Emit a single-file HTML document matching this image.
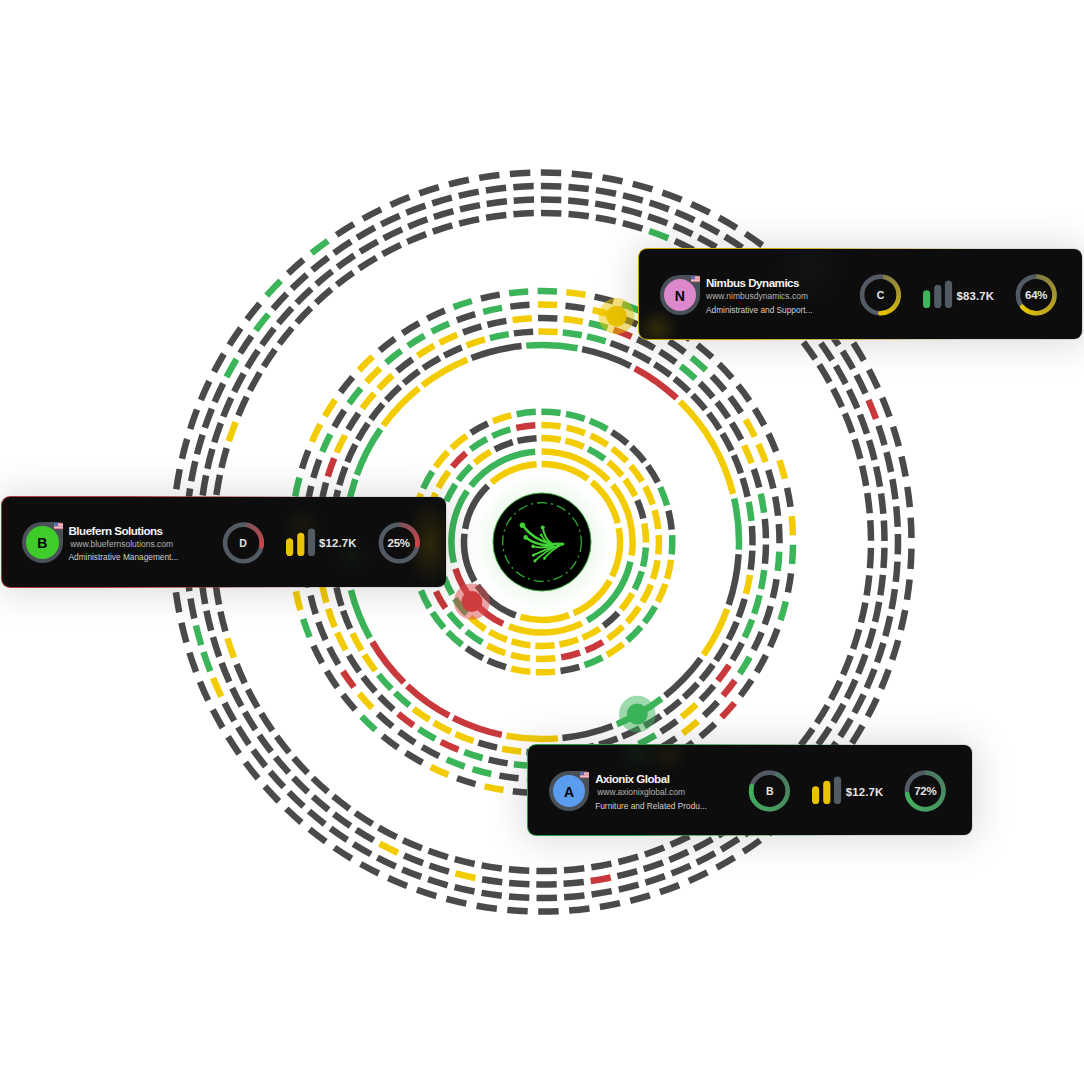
<!DOCTYPE html>
<html><head><meta charset="utf-8"><title>Account rings</title>
<style>
html,body{margin:0;padding:0;background:#fff;}
body{width:1084px;height:1084px;position:relative;overflow:hidden;font-family:"Liberation Sans",sans-serif;}
svg.main{position:absolute;left:0;top:0;}
.card{position:absolute;box-sizing:border-box;height:91px;width:445px;background:#0d0d0d;border-radius:9px;border:1px solid #444;box-shadow:0 1px 38px 3px rgba(0,0,0,0.15);color:#fff;overflow:hidden;}
.card .av{position:absolute;left:20.6px;top:25.6px;width:40.6px;height:40.6px;border-radius:50% 4px 50% 50%;background:#4a5058;}
.card .av i{position:absolute;left:4.1px;top:4.1px;width:32.4px;height:32.4px;border-radius:50%;display:block;}
.card .av b{position:absolute;left:0;top:0;width:40.6px;height:40.6px;line-height:42.5px;text-align:center;font-size:14px;color:#000;font-weight:bold;}
.card .flag{position:absolute;left:52px;top:26.5px;width:9px;height:6px;}
.card .t{position:absolute;left:67px;top:27px;font-size:11.6px;font-weight:bold;line-height:14px;white-space:nowrap;letter-spacing:-0.5px;color:#f4f4f4;}
.card .u{position:absolute;left:67px;top:42px;font-size:8.5px;line-height:10px;white-space:nowrap;color:#b4b4b4;}
.card .d{position:absolute;left:67px;top:55.5px;font-size:8.3px;line-height:10px;white-space:nowrap;color:#d0d0d0;}
.card .amt{position:absolute;top:39.5px;font-size:11.3px;font-weight:bold;line-height:14px;color:#e6e6e6;letter-spacing:0.2px;}
.card svg{position:absolute;left:0;top:0;}
.card .gl{position:absolute;font-size:11.5px;letter-spacing:-0.2px;font-weight:bold;color:#e4e4e4;text-align:center;width:40px;line-height:12px;}
</style></head><body>
<svg class="main" width="1084" height="1084" viewBox="0 0 1084 1084">
<defs>
<radialGradient id="cg" cx="50%" cy="50%" r="50%"><stop offset="0.72" stop-color="#8fd88f" stop-opacity="0.14"/><stop offset="1" stop-color="#8fd88f" stop-opacity="0"/></radialGradient>
</defs>
<path d="M541.59 464.00A78 78 0 0 1 587.91 478.95" stroke="#f2cb00" stroke-width="6.5" fill="none"/>
<path d="M591.82 481.99A78 78 0 0 1 617.70 523.21" stroke="#f2cb00" stroke-width="6.5" fill="none"/>
<path d="M618.74 528.05A78 78 0 0 1 612.07 576.27" stroke="#f2cb00" stroke-width="6.5" fill="none"/>
<path d="M609.75 580.65A78 78 0 0 1 573.65 613.29" stroke="#f2cb00" stroke-width="6.5" fill="none"/>
<path d="M569.06 615.16A78 78 0 0 1 520.42 616.96" stroke="#f2cb00" stroke-width="6.5" fill="none"/>
<path d="M515.71 615.43A78 78 0 0 1 477.29 585.55" stroke="#4a4a4a" stroke-width="6.5" fill="none"/>
<path d="M474.66 581.35A78 78 0 0 1 464.44 533.76" stroke="#4a4a4a" stroke-width="6.5" fill="none"/>
<path d="M465.12 528.86A78 78 0 0 1 487.88 485.83" stroke="#4a4a4a" stroke-width="6.5" fill="none"/>
<path d="M491.55 482.51A78 78 0 0 1 536.64 464.18" stroke="#f2cb00" stroke-width="6.5" fill="none"/>
<path d="M541.53 451.40A90.6 90.6 0 0 1 608.40 480.36" stroke="#f2cb00" stroke-width="6.5" fill="none"/>
<path d="M612.54 485.14A90.6 90.6 0 0 1 631.59 555.48" stroke="#f2cb00" stroke-width="6.5" fill="none"/>
<path d="M630.43 561.70A90.6 90.6 0 0 1 587.32 620.45" stroke="#3cb55a" stroke-width="6.5" fill="none"/>
<path d="M581.74 623.42A90.6 90.6 0 0 1 508.92 626.34" stroke="#f2cb00" stroke-width="6.5" fill="none"/>
<path d="M503.12 623.83A90.6 90.6 0 0 1 455.43 568.72" stroke="#c9393b" stroke-width="6.5" fill="none"/>
<path d="M453.78 562.62A90.6 90.6 0 0 1 467.13 490.98" stroke="#3cb55a" stroke-width="6.5" fill="none"/>
<path d="M470.87 485.88A90.6 90.6 0 0 1 535.21 451.65" stroke="#3cb55a" stroke-width="6.5" fill="none"/>
<path d="M541.46 438.00A104 104 0 0 1 560.65 439.69" stroke="#f2cb00" stroke-width="6.5" fill="none"/>
<path d="M565.45 440.68A104 104 0 0 1 583.75 446.75" stroke="#f2cb00" stroke-width="6.5" fill="none"/>
<path d="M588.19 448.82A104 104 0 0 1 604.59 458.94" stroke="#3cb55a" stroke-width="6.5" fill="none"/>
<path d="M608.43 461.98A104 104 0 0 1 622.06 475.61" stroke="#f2cb00" stroke-width="6.5" fill="none"/>
<path d="M625.09 479.46A104 104 0 0 1 635.21 495.87" stroke="#f2cb00" stroke-width="6.5" fill="none"/>
<path d="M637.28 500.31A104 104 0 0 1 643.33 518.60" stroke="#4a4a4a" stroke-width="6.5" fill="none"/>
<path d="M644.32 523.40A104 104 0 0 1 646.00 542.60" stroke="#f2cb00" stroke-width="6.5" fill="none"/>
<path d="M645.85 547.50A104 104 0 0 1 643.06 566.57" stroke="#3cb55a" stroke-width="6.5" fill="none"/>
<path d="M641.79 571.31A104 104 0 0 1 634.67 589.21" stroke="#3cb55a" stroke-width="6.5" fill="none"/>
<path d="M632.34 593.53A104 104 0 0 1 621.28 609.31" stroke="#f2cb00" stroke-width="6.5" fill="none"/>
<path d="M618.02 612.97A104 104 0 0 1 603.62 625.78" stroke="#4a4a4a" stroke-width="6.5" fill="none"/>
<path d="M599.60 628.59A104 104 0 0 1 582.64 637.73" stroke="#f2cb00" stroke-width="6.5" fill="none"/>
<path d="M578.08 639.54A104 104 0 0 1 559.46 644.52" stroke="#f2cb00" stroke-width="6.5" fill="none"/>
<path d="M554.61 645.23A104 104 0 0 1 535.35 645.79" stroke="#f2cb00" stroke-width="6.5" fill="none"/>
<path d="M530.47 645.36A104 104 0 0 1 511.59 641.46" stroke="#f2cb00" stroke-width="6.5" fill="none"/>
<path d="M506.94 639.91A104 104 0 0 1 489.48 631.76" stroke="#f2cb00" stroke-width="6.5" fill="none"/>
<path d="M485.31 629.19A104 104 0 0 1 470.19 617.23" stroke="#f2cb00" stroke-width="6.5" fill="none"/>
<path d="M466.73 613.76A104 104 0 0 1 454.78 598.64" stroke="#3cb55a" stroke-width="6.5" fill="none"/>
<path d="M452.21 594.47A104 104 0 0 1 444.07 577.00" stroke="#3cb55a" stroke-width="6.5" fill="none"/>
<path d="M442.53 572.35A104 104 0 0 1 438.63 553.47" stroke="#f2cb00" stroke-width="6.5" fill="none"/>
<path d="M438.21 548.59A104 104 0 0 1 438.78 529.33" stroke="#f2cb00" stroke-width="6.5" fill="none"/>
<path d="M446.29 501.31A104 104 0 0 1 455.44 484.35" stroke="#3cb55a" stroke-width="6.5" fill="none"/>
<path d="M458.26 480.33A104 104 0 0 1 471.07 465.94" stroke="#3cb55a" stroke-width="6.5" fill="none"/>
<path d="M474.73 462.68A104 104 0 0 1 490.52 451.63" stroke="#f2cb00" stroke-width="6.5" fill="none"/>
<path d="M494.84 449.31A104 104 0 0 1 512.75 442.20" stroke="#4a4a4a" stroke-width="6.5" fill="none"/>
<path d="M517.49 440.93A104 104 0 0 1 536.56 438.14" stroke="#4a4a4a" stroke-width="6.5" fill="none"/>
<path d="M541.39 425.00A117 117 0 0 1 560.61 426.49" stroke="#f2cb00" stroke-width="6.5" fill="none"/>
<path d="M566.55 427.61A117 117 0 0 1 585.00 433.19" stroke="#f2cb00" stroke-width="6.5" fill="none"/>
<path d="M590.57 435.56A117 117 0 0 1 607.39 444.98" stroke="#f2cb00" stroke-width="6.5" fill="none"/>
<path d="M612.32 448.49A117 117 0 0 1 626.72 461.30" stroke="#f2cb00" stroke-width="6.5" fill="none"/>
<path d="M630.78 465.79A117 117 0 0 1 642.08 481.40" stroke="#f2cb00" stroke-width="6.5" fill="none"/>
<path d="M645.08 486.66A117 117 0 0 1 652.77 504.33" stroke="#f2cb00" stroke-width="6.5" fill="none"/>
<path d="M654.57 510.11A117 117 0 0 1 658.28 529.03" stroke="#f2cb00" stroke-width="6.5" fill="none"/>
<path d="M658.79 535.05A117 117 0 0 1 658.35 554.33" stroke="#f2cb00" stroke-width="6.5" fill="none"/>
<path d="M657.56 560.32A117 117 0 0 1 652.98 579.05" stroke="#f2cb00" stroke-width="6.5" fill="none"/>
<path d="M650.92 584.74A117 117 0 0 1 642.42 602.04" stroke="#f2cb00" stroke-width="6.5" fill="none"/>
<path d="M639.18 607.15A117 117 0 0 1 627.16 622.22" stroke="#f2cb00" stroke-width="6.5" fill="none"/>
<path d="M622.90 626.52A117 117 0 0 1 607.93 638.66" stroke="#f2cb00" stroke-width="6.5" fill="none"/>
<path d="M602.84 641.94A117 117 0 0 1 585.61 650.57" stroke="#c9393b" stroke-width="6.5" fill="none"/>
<path d="M579.94 652.68A117 117 0 0 1 561.25 657.41" stroke="#c9393b" stroke-width="6.5" fill="none"/>
<path d="M555.26 658.25A117 117 0 0 1 535.99 658.85" stroke="#f2cb00" stroke-width="6.5" fill="none"/>
<path d="M529.96 658.38A117 117 0 0 1 511.01 654.82" stroke="#f2cb00" stroke-width="6.5" fill="none"/>
<path d="M505.22 653.07A117 117 0 0 1 487.48 645.52" stroke="#f2cb00" stroke-width="6.5" fill="none"/>
<path d="M482.21 642.57A117 117 0 0 1 466.50 631.38" stroke="#3cb55a" stroke-width="6.5" fill="none"/>
<path d="M461.99 627.36A117 117 0 0 1 449.05 613.06" stroke="#3cb55a" stroke-width="6.5" fill="none"/>
<path d="M445.51 608.17A117 117 0 0 1 435.95 591.42" stroke="#c9393b" stroke-width="6.5" fill="none"/>
<path d="M433.54 585.87A117 117 0 0 1 427.81 567.47" stroke="#f2cb00" stroke-width="6.5" fill="none"/>
<path d="M426.64 561.53A117 117 0 0 1 425.00 542.32" stroke="#f2cb00" stroke-width="6.5" fill="none"/>
<path d="M425.14 536.28A117 117 0 0 1 427.67 517.17" stroke="#f2cb00" stroke-width="6.5" fill="none"/>
<path d="M429.10 511.29A117 117 0 0 1 435.68 493.17" stroke="#f2cb00" stroke-width="6.5" fill="none"/>
<path d="M438.34 487.74A117 117 0 0 1 448.66 471.45" stroke="#f2cb00" stroke-width="6.5" fill="none"/>
<path d="M452.43 466.72A117 117 0 0 1 466.01 453.04" stroke="#c9393b" stroke-width="6.5" fill="none"/>
<path d="M470.71 449.23A117 117 0 0 1 486.91 438.78" stroke="#3cb55a" stroke-width="6.5" fill="none"/>
<path d="M492.32 436.07A117 117 0 0 1 510.39 429.35" stroke="#3cb55a" stroke-width="6.5" fill="none"/>
<path d="M516.25 427.87A117 117 0 0 1 535.34 425.19" stroke="#c9393b" stroke-width="6.5" fill="none"/>
<path d="M541.32 411.70A130.3 130.3 0 0 1 560.55 413.03" stroke="#3cb55a" stroke-width="6.5" fill="none"/>
<path d="M565.99 413.93A130.3 130.3 0 0 1 584.63 418.87" stroke="#3cb55a" stroke-width="6.5" fill="none"/>
<path d="M589.79 420.78A130.3 130.3 0 0 1 607.16 429.16" stroke="#3cb55a" stroke-width="6.5" fill="none"/>
<path d="M611.87 432.02A130.3 130.3 0 0 1 627.34 443.53" stroke="#4a4a4a" stroke-width="6.5" fill="none"/>
<path d="M631.42 447.23A130.3 130.3 0 0 1 644.43 461.46" stroke="#4a4a4a" stroke-width="6.5" fill="none"/>
<path d="M647.74 465.86A130.3 130.3 0 0 1 657.82 482.30" stroke="#4a4a4a" stroke-width="6.5" fill="none"/>
<path d="M660.24 487.25A130.3 130.3 0 0 1 667.03 505.30" stroke="#3cb55a" stroke-width="6.5" fill="none"/>
<path d="M668.46 510.62A130.3 130.3 0 0 1 671.71 529.63" stroke="#4a4a4a" stroke-width="6.5" fill="none"/>
<path d="M672.12 535.12A130.3 130.3 0 0 1 671.71 554.40" stroke="#3cb55a" stroke-width="6.5" fill="none"/>
<path d="M671.07 559.87A130.3 130.3 0 0 1 667.02 578.72" stroke="#f2cb00" stroke-width="6.5" fill="none"/>
<path d="M665.36 583.97A130.3 130.3 0 0 1 657.81 601.72" stroke="#f2cb00" stroke-width="6.5" fill="none"/>
<path d="M655.18 606.56A130.3 130.3 0 0 1 644.42 622.55" stroke="#3cb55a" stroke-width="6.5" fill="none"/>
<path d="M640.92 626.81A130.3 130.3 0 0 1 627.32 640.48" stroke="#3cb55a" stroke-width="6.5" fill="none"/>
<path d="M623.08 644.00A130.3 130.3 0 0 1 607.14 654.85" stroke="#f2cb00" stroke-width="6.5" fill="none"/>
<path d="M602.31 657.50A130.3 130.3 0 0 1 584.61 665.14" stroke="#3cb55a" stroke-width="6.5" fill="none"/>
<path d="M579.36 666.83A130.3 130.3 0 0 1 560.53 670.98" stroke="#4a4a4a" stroke-width="6.5" fill="none"/>
<path d="M555.06 671.64A130.3 130.3 0 0 1 535.79 672.15" stroke="#f2cb00" stroke-width="6.5" fill="none"/>
<path d="M530.29 671.77A130.3 130.3 0 0 1 511.27 668.62" stroke="#f2cb00" stroke-width="6.5" fill="none"/>
<path d="M505.95 667.21A130.3 130.3 0 0 1 487.86 660.52" stroke="#4a4a4a" stroke-width="6.5" fill="none"/>
<path d="M482.90 658.13A130.3 130.3 0 0 1 466.41 648.13" stroke="#4a4a4a" stroke-width="6.5" fill="none"/>
<path d="M461.99 644.84A130.3 130.3 0 0 1 447.69 631.91" stroke="#3cb55a" stroke-width="6.5" fill="none"/>
<path d="M443.97 627.84A130.3 130.3 0 0 1 432.38 612.44" stroke="#3cb55a" stroke-width="6.5" fill="none"/>
<path d="M429.50 607.74A130.3 130.3 0 0 1 421.03 590.42" stroke="#3cb55a" stroke-width="6.5" fill="none"/>
<path d="M419.09 585.26A130.3 130.3 0 0 1 414.05 566.65" stroke="#f2cb00" stroke-width="6.5" fill="none"/>
<path d="M413.13 561.22A130.3 130.3 0 0 1 411.70 541.99" stroke="#f2cb00" stroke-width="6.5" fill="none"/>
<path d="M411.82 536.48A130.3 130.3 0 0 1 414.06 517.33" stroke="#f2cb00" stroke-width="6.5" fill="none"/>
<path d="M415.21 511.94A130.3 130.3 0 0 1 421.04 493.56" stroke="#f2cb00" stroke-width="6.5" fill="none"/>
<path d="M423.19 488.49A130.3 130.3 0 0 1 432.39 471.55" stroke="#3cb55a" stroke-width="6.5" fill="none"/>
<path d="M435.47 466.98A130.3 130.3 0 0 1 447.71 452.07" stroke="#f2cb00" stroke-width="6.5" fill="none"/>
<path d="M451.59 448.17A130.3 130.3 0 0 1 466.43 435.85" stroke="#f2cb00" stroke-width="6.5" fill="none"/>
<path d="M470.98 432.76A130.3 130.3 0 0 1 487.88 423.47" stroke="#4a4a4a" stroke-width="6.5" fill="none"/>
<path d="M492.94 421.29A130.3 130.3 0 0 1 511.29 415.37" stroke="#f2cb00" stroke-width="6.5" fill="none"/>
<path d="M516.67 414.19A130.3 130.3 0 0 1 535.81 411.85" stroke="#3cb55a" stroke-width="6.5" fill="none"/>
<path d="M526.20 345.63A197 197 0 0 1 577.56 348.24" stroke="#3cb55a" stroke-width="6.5" fill="none"/>
<path d="M582.16 349.14A197 197 0 0 1 630.71 366.10" stroke="#4a4a4a" stroke-width="6.5" fill="none"/>
<path d="M634.87 368.27A197 197 0 0 1 676.68 398.22" stroke="#c9393b" stroke-width="6.5" fill="none"/>
<path d="M734.12 498.42A197 197 0 0 1 738.85 549.63" stroke="#3cb55a" stroke-width="6.5" fill="none"/>
<path d="M738.61 554.31A197 197 0 0 1 728.73 604.78" stroke="#4a4a4a" stroke-width="6.5" fill="none"/>
<path d="M727.18 609.21A197 197 0 0 1 703.48 654.85" stroke="#f2cb00" stroke-width="6.5" fill="none"/>
<path d="M700.74 658.66A197 197 0 0 1 665.14 695.77" stroke="#4a4a4a" stroke-width="6.5" fill="none"/>
<path d="M661.45 698.66A197 197 0 0 1 616.83 724.23" stroke="#3cb55a" stroke-width="6.5" fill="none"/>
<path d="M612.47 725.96A197 197 0 0 1 562.46 737.94" stroke="#4a4a4a" stroke-width="6.5" fill="none"/>
<path d="M557.79 738.37A197 197 0 0 1 506.42 735.76" stroke="#f2cb00" stroke-width="6.5" fill="none"/>
<path d="M501.82 734.86A197 197 0 0 1 453.28 717.89" stroke="#c9393b" stroke-width="6.5" fill="none"/>
<path d="M449.11 715.73A197 197 0 0 1 407.31 685.77" stroke="#c9393b" stroke-width="6.5" fill="none"/>
<path d="M403.93 682.52A197 197 0 0 1 372.27 642.00" stroke="#c9393b" stroke-width="6.5" fill="none"/>
<path d="M369.93 637.93A197 197 0 0 1 350.97 590.13" stroke="#3cb55a" stroke-width="6.5" fill="none"/>
<path d="M349.88 585.56A197 197 0 0 1 345.15 534.36" stroke="#4a4a4a" stroke-width="6.5" fill="none"/>
<path d="M345.39 529.67A197 197 0 0 1 355.28 479.20" stroke="#3cb55a" stroke-width="6.5" fill="none"/>
<path d="M356.82 474.78A197 197 0 0 1 380.53 429.14" stroke="#3cb55a" stroke-width="6.5" fill="none"/>
<path d="M383.26 425.33A197 197 0 0 1 418.87 388.22" stroke="#f2cb00" stroke-width="6.5" fill="none"/>
<path d="M422.57 385.33A197 197 0 0 1 467.18 359.76" stroke="#f2cb00" stroke-width="6.5" fill="none"/>
<path d="M471.54 358.03A197 197 0 0 1 521.56 346.06" stroke="#4a4a4a" stroke-width="6.5" fill="none"/>
<path d="M680.06 401.47A197 197 0 0 1 733.03 493.86" stroke="#f2cb00" stroke-width="6.5" fill="none"/>
<path d="M538.33 331.53A210.5 210.5 0 0 1 557.61 332.08" stroke="#f2cb00" stroke-width="6.5" fill="none"/>
<path d="M562.78 332.53A210.5 210.5 0 0 1 581.88 335.31" stroke="#3cb55a" stroke-width="6.5" fill="none"/>
<path d="M586.96 336.36A210.5 210.5 0 0 1 605.60 341.34" stroke="#3cb55a" stroke-width="6.5" fill="none"/>
<path d="M610.53 342.97A210.5 210.5 0 0 1 628.47 350.08" stroke="#4a4a4a" stroke-width="6.5" fill="none"/>
<path d="M633.17 352.27A210.5 210.5 0 0 1 650.16 361.41" stroke="#4a4a4a" stroke-width="6.5" fill="none"/>
<path d="M654.58 364.14A210.5 210.5 0 0 1 670.40 375.19" stroke="#4a4a4a" stroke-width="6.5" fill="none"/>
<path d="M674.47 378.41A210.5 210.5 0 0 1 688.89 391.23" stroke="#4a4a4a" stroke-width="6.5" fill="none"/>
<path d="M692.57 394.90A210.5 210.5 0 0 1 705.40 409.30" stroke="#4a4a4a" stroke-width="6.5" fill="none"/>
<path d="M708.63 413.37A210.5 210.5 0 0 1 719.70 429.17" stroke="#4a4a4a" stroke-width="6.5" fill="none"/>
<path d="M722.43 433.58A210.5 210.5 0 0 1 731.60 450.56" stroke="#4a4a4a" stroke-width="6.5" fill="none"/>
<path d="M733.80 455.26A210.5 210.5 0 0 1 740.94 473.19" stroke="#4a4a4a" stroke-width="6.5" fill="none"/>
<path d="M742.57 478.12A210.5 210.5 0 0 1 747.58 496.75" stroke="#4a4a4a" stroke-width="6.5" fill="none"/>
<path d="M748.63 501.83A210.5 210.5 0 0 1 751.44 520.92" stroke="#3cb55a" stroke-width="6.5" fill="none"/>
<path d="M751.90 526.09A210.5 210.5 0 0 1 752.47 545.38" stroke="#4a4a4a" stroke-width="6.5" fill="none"/>
<path d="M752.33 550.57A210.5 210.5 0 0 1 750.66 569.79" stroke="#4a4a4a" stroke-width="6.5" fill="none"/>
<path d="M749.91 574.93A210.5 210.5 0 0 1 746.02 593.83" stroke="#f2cb00" stroke-width="6.5" fill="none"/>
<path d="M744.68 598.84A210.5 210.5 0 0 1 738.62 617.16" stroke="#4a4a4a" stroke-width="6.5" fill="none"/>
<path d="M736.71 621.99A210.5 210.5 0 0 1 728.57 639.48" stroke="#4a4a4a" stroke-width="6.5" fill="none"/>
<path d="M726.11 644.05A210.5 210.5 0 0 1 715.99 660.48" stroke="#4a4a4a" stroke-width="6.5" fill="none"/>
<path d="M713.02 664.74A210.5 210.5 0 0 1 701.06 679.88" stroke="#4a4a4a" stroke-width="6.5" fill="none"/>
<path d="M697.61 683.76A210.5 210.5 0 0 1 683.98 697.41" stroke="#4a4a4a" stroke-width="6.5" fill="none"/>
<path d="M680.10 700.87A210.5 210.5 0 0 1 664.97 712.84" stroke="#4a4a4a" stroke-width="6.5" fill="none"/>
<path d="M660.72 715.82A210.5 210.5 0 0 1 644.31 725.96" stroke="#4a4a4a" stroke-width="6.5" fill="none"/>
<path d="M639.74 728.43A210.5 210.5 0 0 1 622.26 736.60" stroke="#4a4a4a" stroke-width="6.5" fill="none"/>
<path d="M617.44 738.52A210.5 210.5 0 0 1 599.13 744.60" stroke="#4a4a4a" stroke-width="6.5" fill="none"/>
<path d="M594.11 745.95A210.5 210.5 0 0 1 575.22 749.86" stroke="#4a4a4a" stroke-width="6.5" fill="none"/>
<path d="M570.08 750.62A210.5 210.5 0 0 1 550.86 752.31" stroke="#4a4a4a" stroke-width="6.5" fill="none"/>
<path d="M545.67 752.47A210.5 210.5 0 0 1 526.39 751.92" stroke="#4a4a4a" stroke-width="6.5" fill="none"/>
<path d="M521.22 751.47A210.5 210.5 0 0 1 502.12 748.69" stroke="#f2cb00" stroke-width="6.5" fill="none"/>
<path d="M497.04 747.64A210.5 210.5 0 0 1 478.40 742.66" stroke="#4a4a4a" stroke-width="6.5" fill="none"/>
<path d="M473.47 741.03A210.5 210.5 0 0 1 455.53 733.92" stroke="#f2cb00" stroke-width="6.5" fill="none"/>
<path d="M450.83 731.73A210.5 210.5 0 0 1 433.84 722.59" stroke="#f2cb00" stroke-width="6.5" fill="none"/>
<path d="M429.42 719.86A210.5 210.5 0 0 1 413.60 708.81" stroke="#f2cb00" stroke-width="6.5" fill="none"/>
<path d="M409.53 705.59A210.5 210.5 0 0 1 395.11 692.77" stroke="#3cb55a" stroke-width="6.5" fill="none"/>
<path d="M391.43 689.10A210.5 210.5 0 0 1 378.60 674.70" stroke="#3cb55a" stroke-width="6.5" fill="none"/>
<path d="M375.37 670.63A210.5 210.5 0 0 1 364.30 654.83" stroke="#f2cb00" stroke-width="6.5" fill="none"/>
<path d="M361.57 650.42A210.5 210.5 0 0 1 352.40 633.44" stroke="#f2cb00" stroke-width="6.5" fill="none"/>
<path d="M350.20 628.74A210.5 210.5 0 0 1 343.06 610.81" stroke="#4a4a4a" stroke-width="6.5" fill="none"/>
<path d="M341.43 605.88A210.5 210.5 0 0 1 336.42 587.25" stroke="#4a4a4a" stroke-width="6.5" fill="none"/>
<path d="M335.37 582.17A210.5 210.5 0 0 1 332.56 563.08" stroke="#4a4a4a" stroke-width="6.5" fill="none"/>
<path d="M332.10 557.91A210.5 210.5 0 0 1 331.53 538.62" stroke="#4a4a4a" stroke-width="6.5" fill="none"/>
<path d="M331.67 533.43A210.5 210.5 0 0 1 333.34 514.21" stroke="#4a4a4a" stroke-width="6.5" fill="none"/>
<path d="M334.09 509.07A210.5 210.5 0 0 1 337.98 490.17" stroke="#4a4a4a" stroke-width="6.5" fill="none"/>
<path d="M339.32 485.16A210.5 210.5 0 0 1 345.38 466.84" stroke="#4a4a4a" stroke-width="6.5" fill="none"/>
<path d="M347.29 462.01A210.5 210.5 0 0 1 355.43 444.52" stroke="#4a4a4a" stroke-width="6.5" fill="none"/>
<path d="M357.89 439.95A210.5 210.5 0 0 1 368.01 423.52" stroke="#4a4a4a" stroke-width="6.5" fill="none"/>
<path d="M370.98 419.26A210.5 210.5 0 0 1 382.94 404.12" stroke="#4a4a4a" stroke-width="6.5" fill="none"/>
<path d="M386.39 400.24A210.5 210.5 0 0 1 400.02 386.59" stroke="#4a4a4a" stroke-width="6.5" fill="none"/>
<path d="M403.90 383.13A210.5 210.5 0 0 1 419.03 371.16" stroke="#4a4a4a" stroke-width="6.5" fill="none"/>
<path d="M423.28 368.18A210.5 210.5 0 0 1 439.69 358.04" stroke="#4a4a4a" stroke-width="6.5" fill="none"/>
<path d="M444.26 355.57A210.5 210.5 0 0 1 461.74 347.40" stroke="#4a4a4a" stroke-width="6.5" fill="none"/>
<path d="M466.56 345.48A210.5 210.5 0 0 1 484.87 339.40" stroke="#f2cb00" stroke-width="6.5" fill="none"/>
<path d="M489.89 338.05A210.5 210.5 0 0 1 508.78 334.14" stroke="#3cb55a" stroke-width="6.5" fill="none"/>
<path d="M513.92 333.38A210.5 210.5 0 0 1 533.14 331.69" stroke="#4a4a4a" stroke-width="6.5" fill="none"/>
<path d="M538.09 318.03A224 224 0 0 1 557.38 318.53" stroke="#4a4a4a" stroke-width="6.5" fill="none"/>
<path d="M563.65 319.05A224 224 0 0 1 582.75 321.74" stroke="#f2cb00" stroke-width="6.5" fill="none"/>
<path d="M588.92 322.97A224 224 0 0 1 607.59 327.82" stroke="#3cb55a" stroke-width="6.5" fill="none"/>
<path d="M613.58 329.75A224 224 0 0 1 631.58 336.69" stroke="#c9393b" stroke-width="6.5" fill="none"/>
<path d="M637.31 339.29A224 224 0 0 1 654.40 348.24" stroke="#4a4a4a" stroke-width="6.5" fill="none"/>
<path d="M659.80 351.47A224 224 0 0 1 675.75 362.32" stroke="#4a4a4a" stroke-width="6.5" fill="none"/>
<path d="M680.75 366.14A224 224 0 0 1 695.37 378.74" stroke="#3cb55a" stroke-width="6.5" fill="none"/>
<path d="M699.89 383.11A224 224 0 0 1 712.98 397.28" stroke="#4a4a4a" stroke-width="6.5" fill="none"/>
<path d="M716.97 402.14A224 224 0 0 1 728.36 417.72" stroke="#4a4a4a" stroke-width="6.5" fill="none"/>
<path d="M731.77 423.00A224 224 0 0 1 741.31 439.77" stroke="#4a4a4a" stroke-width="6.5" fill="none"/>
<path d="M744.10 445.41A224 224 0 0 1 751.67 463.16" stroke="#f2cb00" stroke-width="6.5" fill="none"/>
<path d="M753.80 469.07A224 224 0 0 1 759.29 487.57" stroke="#4a4a4a" stroke-width="6.5" fill="none"/>
<path d="M760.73 493.69A224 224 0 0 1 764.07 512.69" stroke="#3cb55a" stroke-width="6.5" fill="none"/>
<path d="M764.81 518.94A224 224 0 0 1 765.97 538.20" stroke="#4a4a4a" stroke-width="6.5" fill="none"/>
<path d="M765.99 544.49A224 224 0 0 1 764.94 563.75" stroke="#4a4a4a" stroke-width="6.5" fill="none"/>
<path d="M764.24 570.00A224 224 0 0 1 761.01 589.03" stroke="#3cb55a" stroke-width="6.5" fill="none"/>
<path d="M759.60 595.16A224 224 0 0 1 754.22 613.68" stroke="#3cb55a" stroke-width="6.5" fill="none"/>
<path d="M752.12 619.61A224 224 0 0 1 744.67 637.41" stroke="#3cb55a" stroke-width="6.5" fill="none"/>
<path d="M741.91 643.06A224 224 0 0 1 732.47 659.89" stroke="#4a4a4a" stroke-width="6.5" fill="none"/>
<path d="M729.08 665.19A224 224 0 0 1 717.79 680.83" stroke="#c9393b" stroke-width="6.5" fill="none"/>
<path d="M713.82 685.71A224 224 0 0 1 700.82 699.96" stroke="#4a4a4a" stroke-width="6.5" fill="none"/>
<path d="M696.32 704.36A224 224 0 0 1 681.78 717.04" stroke="#f2cb00" stroke-width="6.5" fill="none"/>
<path d="M676.81 720.89A224 224 0 0 1 660.91 731.83" stroke="#4a4a4a" stroke-width="6.5" fill="none"/>
<path d="M655.54 735.10A224 224 0 0 1 638.50 744.15" stroke="#3cb55a" stroke-width="6.5" fill="none"/>
<path d="M632.78 746.78A224 224 0 0 1 614.83 753.83" stroke="#4a4a4a" stroke-width="6.5" fill="none"/>
<path d="M608.85 755.79A224 224 0 0 1 590.20 760.75" stroke="#4a4a4a" stroke-width="6.5" fill="none"/>
<path d="M584.04 762.02A224 224 0 0 1 564.95 764.82" stroke="#4a4a4a" stroke-width="6.5" fill="none"/>
<path d="M558.69 765.38A224 224 0 0 1 539.40 765.98" stroke="#4a4a4a" stroke-width="6.5" fill="none"/>
<path d="M533.12 765.82A224 224 0 0 1 513.89 764.23" stroke="#3cb55a" stroke-width="6.5" fill="none"/>
<path d="M507.66 763.35A224 224 0 0 1 488.74 759.58" stroke="#4a4a4a" stroke-width="6.5" fill="none"/>
<path d="M482.65 758.00A224 224 0 0 1 464.29 752.09" stroke="#3cb55a" stroke-width="6.5" fill="none"/>
<path d="M458.42 749.82A224 224 0 0 1 440.84 741.86" stroke="#c9393b" stroke-width="6.5" fill="none"/>
<path d="M435.27 738.94A224 224 0 0 1 418.72 729.02" stroke="#3cb55a" stroke-width="6.5" fill="none"/>
<path d="M413.52 725.49A224 224 0 0 1 398.21 713.75" stroke="#c9393b" stroke-width="6.5" fill="none"/>
<path d="M393.44 709.65A224 224 0 0 1 379.56 696.24" stroke="#4a4a4a" stroke-width="6.5" fill="none"/>
<path d="M375.30 691.62A224 224 0 0 1 363.04 676.72" stroke="#4a4a4a" stroke-width="6.5" fill="none"/>
<path d="M359.33 671.64A224 224 0 0 1 348.85 655.44" stroke="#4a4a4a" stroke-width="6.5" fill="none"/>
<path d="M345.74 649.98A224 224 0 0 1 337.18 632.69" stroke="#f2cb00" stroke-width="6.5" fill="none"/>
<path d="M334.71 626.90A224 224 0 0 1 328.18 608.75" stroke="#f2cb00" stroke-width="6.5" fill="none"/>
<path d="M326.39 602.72A224 224 0 0 1 321.96 583.94" stroke="#f2cb00" stroke-width="6.5" fill="none"/>
<path d="M320.87 577.74A224 224 0 0 1 318.61 558.58" stroke="#4a4a4a" stroke-width="6.5" fill="none"/>
<path d="M318.24 552.30A224 224 0 0 1 318.18 533.01" stroke="#4a4a4a" stroke-width="6.5" fill="none"/>
<path d="M318.52 526.73A224 224 0 0 1 320.66 507.55" stroke="#4a4a4a" stroke-width="6.5" fill="none"/>
<path d="M321.72 501.35A224 224 0 0 1 326.03 482.55" stroke="#4a4a4a" stroke-width="6.5" fill="none"/>
<path d="M327.79 476.51A224 224 0 0 1 334.22 458.32" stroke="#c9393b" stroke-width="6.5" fill="none"/>
<path d="M336.65 452.52A224 224 0 0 1 345.11 435.18" stroke="#f2cb00" stroke-width="6.5" fill="none"/>
<path d="M348.19 429.69A224 224 0 0 1 358.57 413.43" stroke="#4a4a4a" stroke-width="6.5" fill="none"/>
<path d="M362.25 408.33A224 224 0 0 1 374.42 393.36" stroke="#f2cb00" stroke-width="6.5" fill="none"/>
<path d="M378.66 388.71A224 224 0 0 1 392.46 375.23" stroke="#f2cb00" stroke-width="6.5" fill="none"/>
<path d="M397.20 371.09A224 224 0 0 1 412.44 359.27" stroke="#4a4a4a" stroke-width="6.5" fill="none"/>
<path d="M417.63 355.70A224 224 0 0 1 434.12 345.69" stroke="#f2cb00" stroke-width="6.5" fill="none"/>
<path d="M439.67 342.74A224 224 0 0 1 457.20 334.67" stroke="#f2cb00" stroke-width="6.5" fill="none"/>
<path d="M463.05 332.37A224 224 0 0 1 481.39 326.36" stroke="#4a4a4a" stroke-width="6.5" fill="none"/>
<path d="M487.46 324.74A224 224 0 0 1 506.36 320.85" stroke="#4a4a4a" stroke-width="6.5" fill="none"/>
<path d="M512.59 319.94A224 224 0 0 1 531.80 318.23" stroke="#f2cb00" stroke-width="6.5" fill="none"/>
<path d="M537.86 304.54A237.5 237.5 0 0 1 557.14 304.98" stroke="#f2cb00" stroke-width="6.5" fill="none"/>
<path d="M565.45 305.66A237.5 237.5 0 0 1 584.56 308.34" stroke="#4a4a4a" stroke-width="6.5" fill="none"/>
<path d="M592.73 309.98A237.5 237.5 0 0 1 611.40 314.86" stroke="#f2cb00" stroke-width="6.5" fill="none"/>
<path d="M619.32 317.44A237.5 237.5 0 0 1 637.30 324.46" stroke="#4a4a4a" stroke-width="6.5" fill="none"/>
<path d="M644.87 327.93A237.5 237.5 0 0 1 661.91 336.99" stroke="#4a4a4a" stroke-width="6.5" fill="none"/>
<path d="M669.03 341.32A237.5 237.5 0 0 1 684.90 352.30" stroke="#4a4a4a" stroke-width="6.5" fill="none"/>
<path d="M691.46 357.43A237.5 237.5 0 0 1 705.95 370.17" stroke="#3cb55a" stroke-width="6.5" fill="none"/>
<path d="M711.88 376.03A237.5 237.5 0 0 1 724.79 390.37" stroke="#4a4a4a" stroke-width="6.5" fill="none"/>
<path d="M730.00 396.87A237.5 237.5 0 0 1 741.16 412.61" stroke="#4a4a4a" stroke-width="6.5" fill="none"/>
<path d="M745.58 419.68A237.5 237.5 0 0 1 754.83 436.61" stroke="#f2cb00" stroke-width="6.5" fill="none"/>
<path d="M758.40 444.14A237.5 237.5 0 0 1 765.63 462.03" stroke="#f2cb00" stroke-width="6.5" fill="none"/>
<path d="M768.30 469.92A237.5 237.5 0 0 1 773.40 488.53" stroke="#4a4a4a" stroke-width="6.5" fill="none"/>
<path d="M775.14 496.68A237.5 237.5 0 0 1 778.05 515.76" stroke="#4a4a4a" stroke-width="6.5" fill="none"/>
<path d="M778.82 524.05A237.5 237.5 0 0 1 779.50 543.34" stroke="#4a4a4a" stroke-width="6.5" fill="none"/>
<path d="M779.30 551.67A237.5 237.5 0 0 1 777.74 570.90" stroke="#3cb55a" stroke-width="6.5" fill="none"/>
<path d="M776.58 579.15A237.5 237.5 0 0 1 772.79 598.07" stroke="#4a4a4a" stroke-width="6.5" fill="none"/>
<path d="M770.68 606.13A237.5 237.5 0 0 1 764.72 624.49" stroke="#4a4a4a" stroke-width="6.5" fill="none"/>
<path d="M761.68 632.25A237.5 237.5 0 0 1 753.63 649.78" stroke="#4a4a4a" stroke-width="6.5" fill="none"/>
<path d="M749.72 657.14A237.5 237.5 0 0 1 739.69 673.62" stroke="#3cb55a" stroke-width="6.5" fill="none"/>
<path d="M734.95 680.48A237.5 237.5 0 0 1 723.07 695.68" stroke="#c9393b" stroke-width="6.5" fill="none"/>
<path d="M717.57 701.94A237.5 237.5 0 0 1 704.01 715.67" stroke="#4a4a4a" stroke-width="6.5" fill="none"/>
<path d="M697.81 721.24A237.5 237.5 0 0 1 682.75 733.30" stroke="#f2cb00" stroke-width="6.5" fill="none"/>
<path d="M675.95 738.12A237.5 237.5 0 0 1 659.59 748.35" stroke="#4a4a4a" stroke-width="6.5" fill="none"/>
<path d="M652.28 752.35A237.5 237.5 0 0 1 634.84 760.60" stroke="#4a4a4a" stroke-width="6.5" fill="none"/>
<path d="M627.11 763.73A237.5 237.5 0 0 1 608.83 769.90" stroke="#4a4a4a" stroke-width="6.5" fill="none"/>
<path d="M600.80 772.11A237.5 237.5 0 0 1 581.92 776.12" stroke="#4a4a4a" stroke-width="6.5" fill="none"/>
<path d="M573.68 777.38A237.5 237.5 0 0 1 554.47 779.17" stroke="#4a4a4a" stroke-width="6.5" fill="none"/>
<path d="M546.14 779.46A237.5 237.5 0 0 1 526.86 779.02" stroke="#4a4a4a" stroke-width="6.5" fill="none"/>
<path d="M518.55 778.34A237.5 237.5 0 0 1 499.44 775.66" stroke="#4a4a4a" stroke-width="6.5" fill="none"/>
<path d="M491.27 774.02A237.5 237.5 0 0 1 472.60 769.14" stroke="#3cb55a" stroke-width="6.5" fill="none"/>
<path d="M464.68 766.56A237.5 237.5 0 0 1 446.70 759.54" stroke="#3cb55a" stroke-width="6.5" fill="none"/>
<path d="M439.13 756.07A237.5 237.5 0 0 1 422.09 747.01" stroke="#4a4a4a" stroke-width="6.5" fill="none"/>
<path d="M414.97 742.68A237.5 237.5 0 0 1 399.10 731.70" stroke="#4a4a4a" stroke-width="6.5" fill="none"/>
<path d="M392.54 726.57A237.5 237.5 0 0 1 378.05 713.83" stroke="#4a4a4a" stroke-width="6.5" fill="none"/>
<path d="M372.12 707.97A237.5 237.5 0 0 1 359.21 693.63" stroke="#f2cb00" stroke-width="6.5" fill="none"/>
<path d="M354.00 687.13A237.5 237.5 0 0 1 342.84 671.39" stroke="#c9393b" stroke-width="6.5" fill="none"/>
<path d="M338.42 664.32A237.5 237.5 0 0 1 329.17 647.39" stroke="#4a4a4a" stroke-width="6.5" fill="none"/>
<path d="M325.60 639.86A237.5 237.5 0 0 1 318.37 621.97" stroke="#4a4a4a" stroke-width="6.5" fill="none"/>
<path d="M315.70 614.08A237.5 237.5 0 0 1 310.60 595.47" stroke="#4a4a4a" stroke-width="6.5" fill="none"/>
<path d="M308.86 587.32A237.5 237.5 0 0 1 305.95 568.24" stroke="#4a4a4a" stroke-width="6.5" fill="none"/>
<path d="M305.18 559.95A237.5 237.5 0 0 1 304.50 540.66" stroke="#4a4a4a" stroke-width="6.5" fill="none"/>
<path d="M304.70 532.33A237.5 237.5 0 0 1 306.26 513.10" stroke="#4a4a4a" stroke-width="6.5" fill="none"/>
<path d="M307.42 504.85A237.5 237.5 0 0 1 311.21 485.93" stroke="#4a4a4a" stroke-width="6.5" fill="none"/>
<path d="M313.32 477.87A237.5 237.5 0 0 1 319.28 459.51" stroke="#4a4a4a" stroke-width="6.5" fill="none"/>
<path d="M322.32 451.75A237.5 237.5 0 0 1 330.37 434.22" stroke="#3cb55a" stroke-width="6.5" fill="none"/>
<path d="M334.28 426.86A237.5 237.5 0 0 1 344.31 410.38" stroke="#4a4a4a" stroke-width="6.5" fill="none"/>
<path d="M349.05 403.52A237.5 237.5 0 0 1 360.93 388.32" stroke="#3cb55a" stroke-width="6.5" fill="none"/>
<path d="M366.43 382.06A237.5 237.5 0 0 1 379.99 368.33" stroke="#f2cb00" stroke-width="6.5" fill="none"/>
<path d="M386.19 362.76A237.5 237.5 0 0 1 401.25 350.70" stroke="#3cb55a" stroke-width="6.5" fill="none"/>
<path d="M408.05 345.88A237.5 237.5 0 0 1 424.41 335.65" stroke="#3cb55a" stroke-width="6.5" fill="none"/>
<path d="M431.72 331.65A237.5 237.5 0 0 1 449.16 323.40" stroke="#3cb55a" stroke-width="6.5" fill="none"/>
<path d="M456.89 320.27A237.5 237.5 0 0 1 475.17 314.10" stroke="#4a4a4a" stroke-width="6.5" fill="none"/>
<path d="M483.20 311.89A237.5 237.5 0 0 1 502.08 307.88" stroke="#3cb55a" stroke-width="6.5" fill="none"/>
<path d="M510.32 306.62A237.5 237.5 0 0 1 529.53 304.83" stroke="#4a4a4a" stroke-width="6.5" fill="none"/>
<path d="M537.62 291.04A251 251 0 0 1 556.91 291.44" stroke="#3cb55a" stroke-width="6.5" fill="none"/>
<path d="M566.26 292.17A251 251 0 0 1 585.37 294.78" stroke="#f2cb00" stroke-width="6.5" fill="none"/>
<path d="M594.58 296.57A251 251 0 0 1 613.27 301.33" stroke="#4a4a4a" stroke-width="6.5" fill="none"/>
<path d="M622.21 304.16A251 251 0 0 1 640.24 311.03" stroke="#3cb55a" stroke-width="6.5" fill="none"/>
<path d="M648.80 314.85A251 251 0 0 1 665.93 323.73" stroke="#4a4a4a" stroke-width="6.5" fill="none"/>
<path d="M674.00 328.51A251 251 0 0 1 690.00 339.28" stroke="#4a4a4a" stroke-width="6.5" fill="none"/>
<path d="M697.47 344.95A251 251 0 0 1 712.15 357.47" stroke="#4a4a4a" stroke-width="6.5" fill="none"/>
<path d="M718.92 363.95A251 251 0 0 1 732.07 378.07" stroke="#4a4a4a" stroke-width="6.5" fill="none"/>
<path d="M738.06 385.28A251 251 0 0 1 749.52 400.81" stroke="#4a4a4a" stroke-width="6.5" fill="none"/>
<path d="M754.65 408.65A251 251 0 0 1 764.26 425.38" stroke="#4a4a4a" stroke-width="6.5" fill="none"/>
<path d="M768.46 433.76A251 251 0 0 1 776.11 451.48" stroke="#4a4a4a" stroke-width="6.5" fill="none"/>
<path d="M779.33 460.28A251 251 0 0 1 784.90 478.75" stroke="#f2cb00" stroke-width="6.5" fill="none"/>
<path d="M787.09 487.87A251 251 0 0 1 790.53 506.86" stroke="#4a4a4a" stroke-width="6.5" fill="none"/>
<path d="M791.67 516.16A251 251 0 0 1 792.91 535.41" stroke="#f2cb00" stroke-width="6.5" fill="none"/>
<path d="M792.98 544.79A251 251 0 0 1 792.03 564.06" stroke="#3cb55a" stroke-width="6.5" fill="none"/>
<path d="M791.03 573.38A251 251 0 0 1 787.88 592.42" stroke="#4a4a4a" stroke-width="6.5" fill="none"/>
<path d="M785.83 601.56A251 251 0 0 1 780.53 620.12" stroke="#3cb55a" stroke-width="6.5" fill="none"/>
<path d="M777.45 628.97A251 251 0 0 1 770.08 646.80" stroke="#4a4a4a" stroke-width="6.5" fill="none"/>
<path d="M766.00 655.24A251 251 0 0 1 756.64 672.11" stroke="#4a4a4a" stroke-width="6.5" fill="none"/>
<path d="M751.63 680.04A251 251 0 0 1 740.41 695.73" stroke="#4a4a4a" stroke-width="6.5" fill="none"/>
<path d="M734.53 703.03A251 251 0 0 1 721.59 717.35" stroke="#c9393b" stroke-width="6.5" fill="none"/>
<path d="M714.92 723.93A251 251 0 0 1 700.44 736.68" stroke="#4a4a4a" stroke-width="6.5" fill="none"/>
<path d="M693.06 742.46A251 251 0 0 1 677.21 753.47" stroke="#4a4a4a" stroke-width="6.5" fill="none"/>
<path d="M669.22 758.37A251 251 0 0 1 652.22 767.50" stroke="#4a4a4a" stroke-width="6.5" fill="none"/>
<path d="M643.73 771.46A251 251 0 0 1 625.80 778.60" stroke="#4a4a4a" stroke-width="6.5" fill="none"/>
<path d="M616.91 781.56A251 251 0 0 1 598.28 786.61" stroke="#4a4a4a" stroke-width="6.5" fill="none"/>
<path d="M589.11 788.54A251 251 0 0 1 570.03 791.43" stroke="#4a4a4a" stroke-width="6.5" fill="none"/>
<path d="M560.70 792.30A251 251 0 0 1 541.42 793.00" stroke="#4a4a4a" stroke-width="6.5" fill="none"/>
<path d="M532.05 792.80A251 251 0 0 1 512.81 791.30" stroke="#4a4a4a" stroke-width="6.5" fill="none"/>
<path d="M503.52 790.03A251 251 0 0 1 484.58 786.34" stroke="#f2cb00" stroke-width="6.5" fill="none"/>
<path d="M475.50 784.03A251 251 0 0 1 457.10 778.21" stroke="#4a4a4a" stroke-width="6.5" fill="none"/>
<path d="M448.34 774.87A251 251 0 0 1 430.73 766.99" stroke="#f2cb00" stroke-width="6.5" fill="none"/>
<path d="M422.41 762.68A251 251 0 0 1 405.81 752.84" stroke="#4a4a4a" stroke-width="6.5" fill="none"/>
<path d="M398.03 747.61A251 251 0 0 1 382.66 735.94" stroke="#4a4a4a" stroke-width="6.5" fill="none"/>
<path d="M375.53 729.86A251 251 0 0 1 361.59 716.51" stroke="#3cb55a" stroke-width="6.5" fill="none"/>
<path d="M355.20 709.66A251 251 0 0 1 342.88 694.81" stroke="#4a4a4a" stroke-width="6.5" fill="none"/>
<path d="M337.31 687.27A251 251 0 0 1 326.76 671.12" stroke="#4a4a4a" stroke-width="6.5" fill="none"/>
<path d="M322.09 662.99A251 251 0 0 1 313.44 645.74" stroke="#4a4a4a" stroke-width="6.5" fill="none"/>
<path d="M309.73 637.13A251 251 0 0 1 303.11 619.01" stroke="#3cb55a" stroke-width="6.5" fill="none"/>
<path d="M300.40 610.04A251 251 0 0 1 295.88 591.28" stroke="#f2cb00" stroke-width="6.5" fill="none"/>
<path d="M294.22 582.05A251 251 0 0 1 291.87 562.90" stroke="#4a4a4a" stroke-width="6.5" fill="none"/>
<path d="M291.27 553.55A251 251 0 0 1 291.12 534.25" stroke="#4a4a4a" stroke-width="6.5" fill="none"/>
<path d="M291.58 524.89A251 251 0 0 1 293.64 505.70" stroke="#4a4a4a" stroke-width="6.5" fill="none"/>
<path d="M295.17 496.45A251 251 0 0 1 299.39 477.63" stroke="#3cb55a" stroke-width="6.5" fill="none"/>
<path d="M301.97 468.61A251 251 0 0 1 308.31 450.39" stroke="#4a4a4a" stroke-width="6.5" fill="none"/>
<path d="M311.90 441.73A251 251 0 0 1 320.28 424.35" stroke="#f2cb00" stroke-width="6.5" fill="none"/>
<path d="M324.83 416.16A251 251 0 0 1 335.14 399.84" stroke="#f2cb00" stroke-width="6.5" fill="none"/>
<path d="M340.59 392.22A251 251 0 0 1 352.69 377.19" stroke="#4a4a4a" stroke-width="6.5" fill="none"/>
<path d="M358.97 370.24A251 251 0 0 1 372.71 356.68" stroke="#f2cb00" stroke-width="6.5" fill="none"/>
<path d="M379.75 350.49A251 251 0 0 1 394.94 338.60" stroke="#4a4a4a" stroke-width="6.5" fill="none"/>
<path d="M402.63 333.25A251 251 0 0 1 419.08 323.16" stroke="#4a4a4a" stroke-width="6.5" fill="none"/>
<path d="M427.34 318.72A251 251 0 0 1 444.83 310.57" stroke="#4a4a4a" stroke-width="6.5" fill="none"/>
<path d="M453.54 307.11A251 251 0 0 1 471.84 301.00" stroke="#3cb55a" stroke-width="6.5" fill="none"/>
<path d="M480.89 298.55A251 251 0 0 1 499.77 294.58" stroke="#4a4a4a" stroke-width="6.5" fill="none"/>
<path d="M509.04 293.17A251 251 0 0 1 528.25 291.38" stroke="#3cb55a" stroke-width="6.5" fill="none"/>
<path d="M540.97 213.00A329 329 0 0 1 561.36 213.57" stroke="#4a4a4a" stroke-width="6.5" fill="none"/>
<path d="M568.50 214.07A329 329 0 0 1 588.77 216.34" stroke="#4a4a4a" stroke-width="6.5" fill="none"/>
<path d="M595.85 217.44A329 329 0 0 1 615.86 221.40" stroke="#4a4a4a" stroke-width="6.5" fill="none"/>
<path d="M622.82 223.08A329 329 0 0 1 642.42 228.70" stroke="#4a4a4a" stroke-width="6.5" fill="none"/>
<path d="M649.22 230.96A329 329 0 0 1 668.29 238.20" stroke="#3cb55a" stroke-width="6.5" fill="none"/>
<path d="M674.87 241.02A329 329 0 0 1 693.27 249.84" stroke="#4a4a4a" stroke-width="6.5" fill="none"/>
<path d="M699.59 253.20A329 329 0 0 1 717.18 263.52" stroke="#4a4a4a" stroke-width="6.5" fill="none"/>
<path d="M723.20 267.40A329 329 0 0 1 739.87 279.15" stroke="#4a4a4a" stroke-width="6.5" fill="none"/>
<path d="M745.55 283.52A329 329 0 0 1 761.17 296.63" stroke="#4a4a4a" stroke-width="6.5" fill="none"/>
<path d="M766.46 301.46A329 329 0 0 1 780.94 315.83" stroke="#4a4a4a" stroke-width="6.5" fill="none"/>
<path d="M785.80 321.09A329 329 0 0 1 799.02 336.62" stroke="#4a4a4a" stroke-width="6.5" fill="none"/>
<path d="M803.43 342.26A329 329 0 0 1 815.31 358.85" stroke="#4a4a4a" stroke-width="6.5" fill="none"/>
<path d="M819.23 364.84A329 329 0 0 1 829.67 382.36" stroke="#4a4a4a" stroke-width="6.5" fill="none"/>
<path d="M833.08 388.66A329 329 0 0 1 842.02 406.99" stroke="#4a4a4a" stroke-width="6.5" fill="none"/>
<path d="M844.89 413.56A329 329 0 0 1 852.27 432.57" stroke="#4a4a4a" stroke-width="6.5" fill="none"/>
<path d="M854.58 439.35A329 329 0 0 1 860.34 458.92" stroke="#4a4a4a" stroke-width="6.5" fill="none"/>
<path d="M862.07 465.87A329 329 0 0 1 866.17 485.85" stroke="#4a4a4a" stroke-width="6.5" fill="none"/>
<path d="M867.32 492.92A329 329 0 0 1 869.73 513.17" stroke="#4a4a4a" stroke-width="6.5" fill="none"/>
<path d="M870.28 520.31A329 329 0 0 1 871.00 540.69" stroke="#4a4a4a" stroke-width="6.5" fill="none"/>
<path d="M870.95 547.86A329 329 0 0 1 869.95 568.23" stroke="#4a4a4a" stroke-width="6.5" fill="none"/>
<path d="M869.30 575.36A329 329 0 0 1 866.61 595.58" stroke="#4a4a4a" stroke-width="6.5" fill="none"/>
<path d="M865.36 602.63A329 329 0 0 1 860.99 622.55" stroke="#4a4a4a" stroke-width="6.5" fill="none"/>
<path d="M859.16 629.48A329 329 0 0 1 853.13 648.96" stroke="#4a4a4a" stroke-width="6.5" fill="none"/>
<path d="M850.72 655.71A329 329 0 0 1 843.08 674.62" stroke="#4a4a4a" stroke-width="6.5" fill="none"/>
<path d="M840.13 681.15A329 329 0 0 1 830.93 699.35" stroke="#4a4a4a" stroke-width="6.5" fill="none"/>
<path d="M827.44 705.60A329 329 0 0 1 816.75 722.98" stroke="#4a4a4a" stroke-width="6.5" fill="none"/>
<path d="M812.75 728.92A329 329 0 0 1 800.64 745.33" stroke="#4a4a4a" stroke-width="6.5" fill="none"/>
<path d="M796.16 750.92A329 329 0 0 1 782.72 766.26" stroke="#4a4a4a" stroke-width="6.5" fill="none"/>
<path d="M777.78 771.45A329 329 0 0 1 763.11 785.62" stroke="#4a4a4a" stroke-width="6.5" fill="none"/>
<path d="M757.76 790.37A329 329 0 0 1 741.95 803.27" stroke="#4a4a4a" stroke-width="6.5" fill="none"/>
<path d="M736.22 807.56A329 329 0 0 1 719.39 819.08" stroke="#4a4a4a" stroke-width="6.5" fill="none"/>
<path d="M713.31 822.88A329 329 0 0 1 695.58 832.95" stroke="#4a4a4a" stroke-width="6.5" fill="none"/>
<path d="M689.21 836.23A329 329 0 0 1 670.69 844.78" stroke="#4a4a4a" stroke-width="6.5" fill="none"/>
<path d="M664.07 847.51A329 329 0 0 1 644.91 854.49" stroke="#4a4a4a" stroke-width="6.5" fill="none"/>
<path d="M638.08 856.66A329 329 0 0 1 618.40 862.01" stroke="#4a4a4a" stroke-width="6.5" fill="none"/>
<path d="M611.41 863.59A329 329 0 0 1 591.35 867.28" stroke="#4a4a4a" stroke-width="6.5" fill="none"/>
<path d="M584.26 868.27A329 329 0 0 1 563.96 870.27" stroke="#4a4a4a" stroke-width="6.5" fill="none"/>
<path d="M556.81 870.67A329 329 0 0 1 536.41 870.95" stroke="#4a4a4a" stroke-width="6.5" fill="none"/>
<path d="M529.26 870.75A329 329 0 0 1 508.91 869.33" stroke="#4a4a4a" stroke-width="6.5" fill="none"/>
<path d="M501.79 868.53A329 329 0 0 1 481.63 865.41" stroke="#4a4a4a" stroke-width="6.5" fill="none"/>
<path d="M474.61 864.02A329 329 0 0 1 454.78 859.23" stroke="#4a4a4a" stroke-width="6.5" fill="none"/>
<path d="M447.90 857.26A329 329 0 0 1 428.54 850.82" stroke="#4a4a4a" stroke-width="6.5" fill="none"/>
<path d="M421.85 848.28A329 329 0 0 1 403.10 840.24" stroke="#4a4a4a" stroke-width="6.5" fill="none"/>
<path d="M396.64 837.15A329 329 0 0 1 378.63 827.57" stroke="#4a4a4a" stroke-width="6.5" fill="none"/>
<path d="M372.45 823.95A329 329 0 0 1 355.31 812.90" stroke="#4a4a4a" stroke-width="6.5" fill="none"/>
<path d="M349.46 808.77A329 329 0 0 1 333.29 796.33" stroke="#4a4a4a" stroke-width="6.5" fill="none"/>
<path d="M327.81 791.73A329 329 0 0 1 312.75 777.97" stroke="#4a4a4a" stroke-width="6.5" fill="none"/>
<path d="M307.66 772.93A329 329 0 0 1 293.80 757.96" stroke="#4a4a4a" stroke-width="6.5" fill="none"/>
<path d="M289.16 752.51A329 329 0 0 1 276.60 736.44" stroke="#4a4a4a" stroke-width="6.5" fill="none"/>
<path d="M272.43 730.61A329 329 0 0 1 261.26 713.55" stroke="#4a4a4a" stroke-width="6.5" fill="none"/>
<path d="M257.60 707.39A329 329 0 0 1 247.89 689.45" stroke="#4a4a4a" stroke-width="6.5" fill="none"/>
<path d="M244.75 683.02A329 329 0 0 1 236.59 664.33" stroke="#4a4a4a" stroke-width="6.5" fill="none"/>
<path d="M234.00 657.65A329 329 0 0 1 227.42 638.34" stroke="#f2cb00" stroke-width="6.5" fill="none"/>
<path d="M225.40 631.47A329 329 0 0 1 220.46 611.68" stroke="#4a4a4a" stroke-width="6.5" fill="none"/>
<path d="M219.02 604.66A329 329 0 0 1 215.76 584.53" stroke="#4a4a4a" stroke-width="6.5" fill="none"/>
<path d="M214.91 577.42A329 329 0 0 1 213.35 557.08" stroke="#4a4a4a" stroke-width="6.5" fill="none"/>
<path d="M213.10 549.92A329 329 0 0 1 213.24 529.53" stroke="#4a4a4a" stroke-width="6.5" fill="none"/>
<path d="M213.59 522.37A329 329 0 0 1 215.43 502.06" stroke="#4a4a4a" stroke-width="6.5" fill="none"/>
<path d="M216.38 494.96A329 329 0 0 1 219.92 474.87" stroke="#4a4a4a" stroke-width="6.5" fill="none"/>
<path d="M221.46 467.88A329 329 0 0 1 226.67 448.16" stroke="#4a4a4a" stroke-width="6.5" fill="none"/>
<path d="M228.78 441.32A329 329 0 0 1 235.63 422.10" stroke="#f2cb00" stroke-width="6.5" fill="none"/>
<path d="M238.31 415.46A329 329 0 0 1 246.73 396.89" stroke="#4a4a4a" stroke-width="6.5" fill="none"/>
<path d="M249.96 390.49A329 329 0 0 1 259.91 372.69" stroke="#4a4a4a" stroke-width="6.5" fill="none"/>
<path d="M263.66 366.59A329 329 0 0 1 275.07 349.68" stroke="#4a4a4a" stroke-width="6.5" fill="none"/>
<path d="M279.32 343.91A329 329 0 0 1 292.10 328.01" stroke="#4a4a4a" stroke-width="6.5" fill="none"/>
<path d="M296.81 322.63A329 329 0 0 1 310.88 307.85" stroke="#4a4a4a" stroke-width="6.5" fill="none"/>
<path d="M316.03 302.88A329 329 0 0 1 331.28 289.34" stroke="#4a4a4a" stroke-width="6.5" fill="none"/>
<path d="M336.83 284.81A329 329 0 0 1 353.16 272.59" stroke="#4a4a4a" stroke-width="6.5" fill="none"/>
<path d="M359.07 268.54A329 329 0 0 1 376.37 257.73" stroke="#4a4a4a" stroke-width="6.5" fill="none"/>
<path d="M382.60 254.19A329 329 0 0 1 400.74 244.87" stroke="#4a4a4a" stroke-width="6.5" fill="none"/>
<path d="M407.24 241.87A329 329 0 0 1 426.10 234.09" stroke="#4a4a4a" stroke-width="6.5" fill="none"/>
<path d="M432.83 231.64A329 329 0 0 1 452.27 225.47" stroke="#4a4a4a" stroke-width="6.5" fill="none"/>
<path d="M459.18 223.59A329 329 0 0 1 479.07 219.07" stroke="#4a4a4a" stroke-width="6.5" fill="none"/>
<path d="M486.11 217.78A329 329 0 0 1 506.31 214.94" stroke="#4a4a4a" stroke-width="6.5" fill="none"/>
<path d="M513.44 214.24A329 329 0 0 1 533.81 213.10" stroke="#4a4a4a" stroke-width="6.5" fill="none"/>
<path d="M540.92 199.50A342.5 342.5 0 0 1 561.31 200.04" stroke="#4a4a4a" stroke-width="6.5" fill="none"/>
<path d="M568.14 200.50A342.5 342.5 0 0 1 588.42 202.66" stroke="#4a4a4a" stroke-width="6.5" fill="none"/>
<path d="M595.19 203.66A342.5 342.5 0 0 1 615.23 207.42" stroke="#4a4a4a" stroke-width="6.5" fill="none"/>
<path d="M621.90 208.95A342.5 342.5 0 0 1 641.59 214.30" stroke="#4a4a4a" stroke-width="6.5" fill="none"/>
<path d="M648.11 216.35A342.5 342.5 0 0 1 667.31 223.25" stroke="#4a4a4a" stroke-width="6.5" fill="none"/>
<path d="M673.65 225.81A342.5 342.5 0 0 1 692.24 234.21" stroke="#4a4a4a" stroke-width="6.5" fill="none"/>
<path d="M698.35 237.27A342.5 342.5 0 0 1 716.22 247.12" stroke="#4a4a4a" stroke-width="6.5" fill="none"/>
<path d="M722.07 250.66A342.5 342.5 0 0 1 739.09 261.89" stroke="#4a4a4a" stroke-width="6.5" fill="none"/>
<path d="M744.65 265.88A342.5 342.5 0 0 1 760.72 278.44" stroke="#4a4a4a" stroke-width="6.5" fill="none"/>
<path d="M765.94 282.86A342.5 342.5 0 0 1 780.97 296.65" stroke="#4a4a4a" stroke-width="6.5" fill="none"/>
<path d="M785.83 301.47A342.5 342.5 0 0 1 799.71 316.41" stroke="#4a4a4a" stroke-width="6.5" fill="none"/>
<path d="M804.16 321.60A342.5 342.5 0 0 1 816.82 337.60" stroke="#4a4a4a" stroke-width="6.5" fill="none"/>
<path d="M820.85 343.13A342.5 342.5 0 0 1 832.19 360.08" stroke="#4a4a4a" stroke-width="6.5" fill="none"/>
<path d="M835.77 365.91A342.5 342.5 0 0 1 845.73 383.71" stroke="#4a4a4a" stroke-width="6.5" fill="none"/>
<path d="M848.83 389.81A342.5 342.5 0 0 1 857.34 408.34" stroke="#4a4a4a" stroke-width="6.5" fill="none"/>
<path d="M859.95 414.66A342.5 342.5 0 0 1 866.97 433.82" stroke="#4a4a4a" stroke-width="6.5" fill="none"/>
<path d="M869.06 440.33A342.5 342.5 0 0 1 874.53 459.98" stroke="#4a4a4a" stroke-width="6.5" fill="none"/>
<path d="M876.11 466.63A342.5 342.5 0 0 1 880.00 486.66" stroke="#4a4a4a" stroke-width="6.5" fill="none"/>
<path d="M881.04 493.42A342.5 342.5 0 0 1 883.33 513.69" stroke="#4a4a4a" stroke-width="6.5" fill="none"/>
<path d="M883.83 520.51A342.5 342.5 0 0 1 884.50 540.89" stroke="#4a4a4a" stroke-width="6.5" fill="none"/>
<path d="M884.45 547.73A342.5 342.5 0 0 1 883.50 568.11" stroke="#4a4a4a" stroke-width="6.5" fill="none"/>
<path d="M882.91 574.92A342.5 342.5 0 0 1 880.35 595.16" stroke="#4a4a4a" stroke-width="6.5" fill="none"/>
<path d="M879.22 601.91A342.5 342.5 0 0 1 875.06 621.87" stroke="#4a4a4a" stroke-width="6.5" fill="none"/>
<path d="M873.39 628.51A342.5 342.5 0 0 1 867.66 648.08" stroke="#4a4a4a" stroke-width="6.5" fill="none"/>
<path d="M865.47 654.56A342.5 342.5 0 0 1 858.20 673.62" stroke="#4a4a4a" stroke-width="6.5" fill="none"/>
<path d="M855.51 679.91A342.5 342.5 0 0 1 846.74 698.33" stroke="#4a4a4a" stroke-width="6.5" fill="none"/>
<path d="M843.56 704.38A342.5 342.5 0 0 1 833.36 722.04" stroke="#4a4a4a" stroke-width="6.5" fill="none"/>
<path d="M829.71 727.83A342.5 342.5 0 0 1 818.13 744.62" stroke="#4a4a4a" stroke-width="6.5" fill="none"/>
<path d="M814.03 750.10A342.5 342.5 0 0 1 801.16 765.92" stroke="#4a4a4a" stroke-width="6.5" fill="none"/>
<path d="M796.64 771.05A342.5 342.5 0 0 1 782.55 785.80" stroke="#4a4a4a" stroke-width="6.5" fill="none"/>
<path d="M777.64 790.56A342.5 342.5 0 0 1 762.42 804.15" stroke="#4a4a4a" stroke-width="6.5" fill="none"/>
<path d="M757.14 808.50A342.5 342.5 0 0 1 740.90 820.83" stroke="#4a4a4a" stroke-width="6.5" fill="none"/>
<path d="M735.29 824.75A342.5 342.5 0 0 1 718.12 835.75" stroke="#4a4a4a" stroke-width="6.5" fill="none"/>
<path d="M712.21 839.21A342.5 342.5 0 0 1 694.22 848.81" stroke="#4a4a4a" stroke-width="6.5" fill="none"/>
<path d="M688.06 851.79A342.5 342.5 0 0 1 669.36 859.94" stroke="#4a4a4a" stroke-width="6.5" fill="none"/>
<path d="M662.99 862.42A342.5 342.5 0 0 1 643.70 869.05" stroke="#4a4a4a" stroke-width="6.5" fill="none"/>
<path d="M637.15 871.02A342.5 342.5 0 0 1 617.39 876.10" stroke="#4a4a4a" stroke-width="6.5" fill="none"/>
<path d="M610.71 877.54A342.5 342.5 0 0 1 590.61 881.03" stroke="#c9393b" stroke-width="6.5" fill="none"/>
<path d="M583.83 881.94A342.5 342.5 0 0 1 563.52 883.82" stroke="#4a4a4a" stroke-width="6.5" fill="none"/>
<path d="M556.69 884.18A342.5 342.5 0 0 1 536.30 884.45" stroke="#4a4a4a" stroke-width="6.5" fill="none"/>
<path d="M529.46 884.27A342.5 342.5 0 0 1 509.11 882.92" stroke="#4a4a4a" stroke-width="6.5" fill="none"/>
<path d="M502.30 882.19A342.5 342.5 0 0 1 482.12 879.23" stroke="#4a4a4a" stroke-width="6.5" fill="none"/>
<path d="M475.40 877.96A342.5 342.5 0 0 1 455.52 873.40" stroke="#f2cb00" stroke-width="6.5" fill="none"/>
<path d="M448.92 871.61A342.5 342.5 0 0 1 429.46 865.48" stroke="#4a4a4a" stroke-width="6.5" fill="none"/>
<path d="M423.03 863.17A342.5 342.5 0 0 1 404.12 855.52" stroke="#4a4a4a" stroke-width="6.5" fill="none"/>
<path d="M397.89 852.70A342.5 342.5 0 0 1 379.65 843.57" stroke="#f2cb00" stroke-width="6.5" fill="none"/>
<path d="M373.66 840.27A342.5 342.5 0 0 1 356.20 829.72" stroke="#4a4a4a" stroke-width="6.5" fill="none"/>
<path d="M350.49 825.95A342.5 342.5 0 0 1 333.93 814.05" stroke="#4a4a4a" stroke-width="6.5" fill="none"/>
<path d="M328.54 809.84A342.5 342.5 0 0 1 312.97 796.66" stroke="#4a4a4a" stroke-width="6.5" fill="none"/>
<path d="M307.93 792.04A342.5 342.5 0 0 1 293.46 777.66" stroke="#4a4a4a" stroke-width="6.5" fill="none"/>
<path d="M288.80 772.65A342.5 342.5 0 0 1 275.52 757.17" stroke="#4a4a4a" stroke-width="6.5" fill="none"/>
<path d="M271.28 751.80A342.5 342.5 0 0 1 259.27 735.32" stroke="#4a4a4a" stroke-width="6.5" fill="none"/>
<path d="M255.47 729.63A342.5 342.5 0 0 1 244.81 712.24" stroke="#4a4a4a" stroke-width="6.5" fill="none"/>
<path d="M241.47 706.27A342.5 342.5 0 0 1 232.22 688.09" stroke="#4a4a4a" stroke-width="6.5" fill="none"/>
<path d="M229.36 681.88A342.5 342.5 0 0 1 221.59 663.02" stroke="#4a4a4a" stroke-width="6.5" fill="none"/>
<path d="M219.24 656.59A342.5 342.5 0 0 1 212.99 637.18" stroke="#4a4a4a" stroke-width="6.5" fill="none"/>
<path d="M211.16 630.59A342.5 342.5 0 0 1 206.47 610.74" stroke="#4a4a4a" stroke-width="6.5" fill="none"/>
<path d="M205.16 604.02A342.5 342.5 0 0 1 202.07 583.86" stroke="#4a4a4a" stroke-width="6.5" fill="none"/>
<path d="M201.30 577.06A342.5 342.5 0 0 1 199.82 556.72" stroke="#4a4a4a" stroke-width="6.5" fill="none"/>
<path d="M199.59 549.89A342.5 342.5 0 0 1 199.73 529.49" stroke="#4a4a4a" stroke-width="6.5" fill="none"/>
<path d="M200.05 522.66A342.5 342.5 0 0 1 201.80 502.33" stroke="#4a4a4a" stroke-width="6.5" fill="none"/>
<path d="M202.66 495.55A342.5 342.5 0 0 1 206.03 475.43" stroke="#4a4a4a" stroke-width="6.5" fill="none"/>
<path d="M207.43 468.74A342.5 342.5 0 0 1 212.38 448.95" stroke="#4a4a4a" stroke-width="6.5" fill="none"/>
<path d="M214.31 442.39A342.5 342.5 0 0 1 220.82 423.06" stroke="#4a4a4a" stroke-width="6.5" fill="none"/>
<path d="M223.26 416.66A342.5 342.5 0 0 1 231.28 397.91" stroke="#4a4a4a" stroke-width="6.5" fill="none"/>
<path d="M234.22 391.74A342.5 342.5 0 0 1 243.71 373.68" stroke="#4a4a4a" stroke-width="6.5" fill="none"/>
<path d="M247.13 367.76A342.5 342.5 0 0 1 258.03 350.52" stroke="#4a4a4a" stroke-width="6.5" fill="none"/>
<path d="M261.91 344.88A342.5 342.5 0 0 1 274.14 328.56" stroke="#4a4a4a" stroke-width="6.5" fill="none"/>
<path d="M278.46 323.25A342.5 342.5 0 0 1 291.94 307.95" stroke="#4a4a4a" stroke-width="6.5" fill="none"/>
<path d="M296.67 303.01A342.5 342.5 0 0 1 311.33 288.83" stroke="#4a4a4a" stroke-width="6.5" fill="none"/>
<path d="M316.43 284.27A342.5 342.5 0 0 1 332.17 271.30" stroke="#4a4a4a" stroke-width="6.5" fill="none"/>
<path d="M337.62 267.16A342.5 342.5 0 0 1 354.34 255.48" stroke="#4a4a4a" stroke-width="6.5" fill="none"/>
<path d="M360.10 251.79A342.5 342.5 0 0 1 377.70 241.48" stroke="#4a4a4a" stroke-width="6.5" fill="none"/>
<path d="M383.74 238.26A342.5 342.5 0 0 1 402.10 229.38" stroke="#4a4a4a" stroke-width="6.5" fill="none"/>
<path d="M408.37 226.64A342.5 342.5 0 0 1 427.38 219.25" stroke="#4a4a4a" stroke-width="6.5" fill="none"/>
<path d="M433.85 217.02A342.5 342.5 0 0 1 453.38 211.16" stroke="#4a4a4a" stroke-width="6.5" fill="none"/>
<path d="M460.01 209.46A342.5 342.5 0 0 1 479.95 205.17" stroke="#4a4a4a" stroke-width="6.5" fill="none"/>
<path d="M486.69 204.00A342.5 342.5 0 0 1 506.90 201.30" stroke="#4a4a4a" stroke-width="6.5" fill="none"/>
<path d="M513.72 200.67A342.5 342.5 0 0 1 534.08 199.59" stroke="#4a4a4a" stroke-width="6.5" fill="none"/>
<path d="M540.88 186.00A356 356 0 0 1 561.27 186.52" stroke="#4a4a4a" stroke-width="6.5" fill="none"/>
<path d="M568.47 186.99A356 356 0 0 1 588.76 189.08" stroke="#4a4a4a" stroke-width="6.5" fill="none"/>
<path d="M595.90 190.10A356 356 0 0 1 615.97 193.77" stroke="#4a4a4a" stroke-width="6.5" fill="none"/>
<path d="M623.01 195.34A356 356 0 0 1 642.73 200.55" stroke="#4a4a4a" stroke-width="6.5" fill="none"/>
<path d="M649.63 202.66A356 356 0 0 1 668.89 209.38" stroke="#4a4a4a" stroke-width="6.5" fill="none"/>
<path d="M675.60 212.02A356 356 0 0 1 694.28 220.21" stroke="#4a4a4a" stroke-width="6.5" fill="none"/>
<path d="M700.77 223.37A356 356 0 0 1 718.76 232.98" stroke="#4a4a4a" stroke-width="6.5" fill="none"/>
<path d="M724.99 236.63A356 356 0 0 1 742.18 247.61" stroke="#4a4a4a" stroke-width="6.5" fill="none"/>
<path d="M748.10 251.73A356 356 0 0 1 764.39 264.01" stroke="#4a4a4a" stroke-width="6.5" fill="none"/>
<path d="M769.97 268.57A356 356 0 0 1 785.26 282.08" stroke="#4a4a4a" stroke-width="6.5" fill="none"/>
<path d="M790.48 287.06A356 356 0 0 1 804.67 301.71" stroke="#4a4a4a" stroke-width="6.5" fill="none"/>
<path d="M809.49 307.08A356 356 0 0 1 822.50 322.79" stroke="#4a4a4a" stroke-width="6.5" fill="none"/>
<path d="M826.89 328.52A356 356 0 0 1 838.65 345.18" stroke="#4a4a4a" stroke-width="6.5" fill="none"/>
<path d="M842.57 351.23A356 356 0 0 1 853.01 368.76" stroke="#4a4a4a" stroke-width="6.5" fill="none"/>
<path d="M856.45 375.10A356 356 0 0 1 865.49 393.38" stroke="#4a4a4a" stroke-width="6.5" fill="none"/>
<path d="M868.44 399.97A356 356 0 0 1 876.04 418.90" stroke="#c9393b" stroke-width="6.5" fill="none"/>
<path d="M878.47 425.69A356 356 0 0 1 884.57 445.15" stroke="#4a4a4a" stroke-width="6.5" fill="none"/>
<path d="M886.47 452.12A356 356 0 0 1 891.05 471.99" stroke="#4a4a4a" stroke-width="6.5" fill="none"/>
<path d="M892.40 479.08A356 356 0 0 1 895.42 499.25" stroke="#4a4a4a" stroke-width="6.5" fill="none"/>
<path d="M896.22 506.42A356 356 0 0 1 897.67 526.77" stroke="#4a4a4a" stroke-width="6.5" fill="none"/>
<path d="M897.91 533.98A356 356 0 0 1 897.78 554.38" stroke="#4a4a4a" stroke-width="6.5" fill="none"/>
<path d="M897.46 561.58A356 356 0 0 1 895.76 581.91" stroke="#4a4a4a" stroke-width="6.5" fill="none"/>
<path d="M894.87 589.07A356 356 0 0 1 891.60 609.20" stroke="#4a4a4a" stroke-width="6.5" fill="none"/>
<path d="M890.17 616.27A356 356 0 0 1 885.34 636.09" stroke="#4a4a4a" stroke-width="6.5" fill="none"/>
<path d="M883.36 643.03A356 356 0 0 1 877.02 662.41" stroke="#4a4a4a" stroke-width="6.5" fill="none"/>
<path d="M874.51 669.18A356 356 0 0 1 866.68 688.01" stroke="#4a4a4a" stroke-width="6.5" fill="none"/>
<path d="M863.65 694.56A356 356 0 0 1 854.39 712.73" stroke="#4a4a4a" stroke-width="6.5" fill="none"/>
<path d="M850.86 719.03A356 356 0 0 1 840.22 736.43" stroke="#4a4a4a" stroke-width="6.5" fill="none"/>
<path d="M836.22 742.43A356 356 0 0 1 824.25 758.95" stroke="#4a4a4a" stroke-width="6.5" fill="none"/>
<path d="M819.80 764.63A356 356 0 0 1 806.59 780.17" stroke="#4a4a4a" stroke-width="6.5" fill="none"/>
<path d="M801.71 785.49A356 356 0 0 1 787.34 799.96" stroke="#4a4a4a" stroke-width="6.5" fill="none"/>
<path d="M782.06 804.88A356 356 0 0 1 766.61 818.20" stroke="#4a4a4a" stroke-width="6.5" fill="none"/>
<path d="M760.97 822.69A356 356 0 0 1 744.53 834.77" stroke="#4a4a4a" stroke-width="6.5" fill="none"/>
<path d="M738.56 838.82A356 356 0 0 1 721.24 849.59" stroke="#4a4a4a" stroke-width="6.5" fill="none"/>
<path d="M714.97 853.16A356 356 0 0 1 696.86 862.55" stroke="#4a4a4a" stroke-width="6.5" fill="none"/>
<path d="M690.33 865.62A356 356 0 0 1 671.56 873.59" stroke="#4a4a4a" stroke-width="6.5" fill="none"/>
<path d="M664.81 876.15A356 356 0 0 1 645.47 882.63" stroke="#4a4a4a" stroke-width="6.5" fill="none"/>
<path d="M638.55 884.66A356 356 0 0 1 618.76 889.63" stroke="#4a4a4a" stroke-width="6.5" fill="none"/>
<path d="M611.70 891.11A356 356 0 0 1 591.59 894.53" stroke="#4a4a4a" stroke-width="6.5" fill="none"/>
<path d="M584.44 895.46A356 356 0 0 1 564.13 897.31" stroke="#4a4a4a" stroke-width="6.5" fill="none"/>
<path d="M556.92 897.69A356 356 0 0 1 536.53 897.96" stroke="#4a4a4a" stroke-width="6.5" fill="none"/>
<path d="M529.31 897.77A356 356 0 0 1 508.96 896.46" stroke="#4a4a4a" stroke-width="6.5" fill="none"/>
<path d="M501.78 895.72A356 356 0 0 1 481.59 892.84" stroke="#4a4a4a" stroke-width="6.5" fill="none"/>
<path d="M474.49 891.54A356 356 0 0 1 454.58 887.10" stroke="#4a4a4a" stroke-width="6.5" fill="none"/>
<path d="M447.61 885.26A356 356 0 0 1 428.10 879.29" stroke="#4a4a4a" stroke-width="6.5" fill="none"/>
<path d="M421.29 876.91A356 356 0 0 1 402.31 869.45" stroke="#4a4a4a" stroke-width="6.5" fill="none"/>
<path d="M395.70 866.55A356 356 0 0 1 377.35 857.64" stroke="#4a4a4a" stroke-width="6.5" fill="none"/>
<path d="M370.99 854.24A356 356 0 0 1 353.39 843.93" stroke="#4a4a4a" stroke-width="6.5" fill="none"/>
<path d="M347.31 840.05A356 356 0 0 1 330.56 828.41" stroke="#4a4a4a" stroke-width="6.5" fill="none"/>
<path d="M324.80 824.06A356 356 0 0 1 309.00 811.16" stroke="#4a4a4a" stroke-width="6.5" fill="none"/>
<path d="M303.59 806.38A356 356 0 0 1 288.84 792.30" stroke="#4a4a4a" stroke-width="6.5" fill="none"/>
<path d="M283.82 787.11A356 356 0 0 1 270.21 771.93" stroke="#4a4a4a" stroke-width="6.5" fill="none"/>
<path d="M265.61 766.37A356 356 0 0 1 253.21 750.17" stroke="#4a4a4a" stroke-width="6.5" fill="none"/>
<path d="M249.05 744.28A356 356 0 0 1 237.95 727.17" stroke="#4a4a4a" stroke-width="6.5" fill="none"/>
<path d="M234.26 720.97A356 356 0 0 1 224.51 703.05" stroke="#4a4a4a" stroke-width="6.5" fill="none"/>
<path d="M221.31 696.58A356 356 0 0 1 212.99 677.96" stroke="#f2cb00" stroke-width="6.5" fill="none"/>
<path d="M210.30 671.27A356 356 0 0 1 203.44 652.06" stroke="#3cb55a" stroke-width="6.5" fill="none"/>
<path d="M201.28 645.17A356 356 0 0 1 195.93 625.49" stroke="#3cb55a" stroke-width="6.5" fill="none"/>
<path d="M194.31 618.46A356 356 0 0 1 190.50 598.42" stroke="#4a4a4a" stroke-width="6.5" fill="none"/>
<path d="M189.43 591.29A356 356 0 0 1 187.18 571.01" stroke="#4a4a4a" stroke-width="6.5" fill="none"/>
<path d="M186.67 563.82A356 356 0 0 1 186.00 543.43" stroke="#4a4a4a" stroke-width="6.5" fill="none"/>
<path d="M186.05 536.21A356 356 0 0 1 186.96 515.84" stroke="#4a4a4a" stroke-width="6.5" fill="none"/>
<path d="M187.57 508.65A356 356 0 0 1 190.06 488.40" stroke="#4a4a4a" stroke-width="6.5" fill="none"/>
<path d="M191.22 481.28A356 356 0 0 1 195.27 461.29" stroke="#4a4a4a" stroke-width="6.5" fill="none"/>
<path d="M196.98 454.28A356 356 0 0 1 202.57 434.67" stroke="#4a4a4a" stroke-width="6.5" fill="none"/>
<path d="M204.81 427.81A356 356 0 0 1 211.90 408.69" stroke="#4a4a4a" stroke-width="6.5" fill="none"/>
<path d="M214.67 402.02A356 356 0 0 1 223.23 383.51" stroke="#4a4a4a" stroke-width="6.5" fill="none"/>
<path d="M226.51 377.08A356 356 0 0 1 236.47 359.28" stroke="#3cb55a" stroke-width="6.5" fill="none"/>
<path d="M240.23 353.13A356 356 0 0 1 251.55 336.15" stroke="#4a4a4a" stroke-width="6.5" fill="none"/>
<path d="M255.78 330.31A356 356 0 0 1 268.37 314.26" stroke="#3cb55a" stroke-width="6.5" fill="none"/>
<path d="M273.04 308.77A356 356 0 0 1 286.84 293.75" stroke="#4a4a4a" stroke-width="6.5" fill="none"/>
<path d="M291.93 288.63A356 356 0 0 1 306.85 274.72" stroke="#4a4a4a" stroke-width="6.5" fill="none"/>
<path d="M312.31 270.01A356 356 0 0 1 328.27 257.30" stroke="#4a4a4a" stroke-width="6.5" fill="none"/>
<path d="M334.08 253.03A356 356 0 0 1 350.97 241.59" stroke="#4a4a4a" stroke-width="6.5" fill="none"/>
<path d="M357.10 237.78A356 356 0 0 1 374.82 227.69" stroke="#4a4a4a" stroke-width="6.5" fill="none"/>
<path d="M381.23 224.37A356 356 0 0 1 399.68 215.68" stroke="#4a4a4a" stroke-width="6.5" fill="none"/>
<path d="M406.33 212.87A356 356 0 0 1 425.40 205.64" stroke="#4a4a4a" stroke-width="6.5" fill="none"/>
<path d="M432.24 203.34A356 356 0 0 1 451.82 197.61" stroke="#4a4a4a" stroke-width="6.5" fill="none"/>
<path d="M458.81 195.86A356 356 0 0 1 478.77 191.66" stroke="#4a4a4a" stroke-width="6.5" fill="none"/>
<path d="M485.89 190.45A356 356 0 0 1 506.11 187.81" stroke="#4a4a4a" stroke-width="6.5" fill="none"/>
<path d="M513.30 187.16A356 356 0 0 1 533.67 186.10" stroke="#4a4a4a" stroke-width="6.5" fill="none"/>
<path d="M540.84 172.50A369.5 369.5 0 0 1 561.23 173.00" stroke="#4a4a4a" stroke-width="6.5" fill="none"/>
<path d="M571.76 173.70A369.5 369.5 0 0 1 592.04 175.90" stroke="#4a4a4a" stroke-width="6.5" fill="none"/>
<path d="M602.48 177.48A369.5 369.5 0 0 1 622.50 181.38" stroke="#4a4a4a" stroke-width="6.5" fill="none"/>
<path d="M632.77 183.82A369.5 369.5 0 0 1 652.39 189.38" stroke="#4a4a4a" stroke-width="6.5" fill="none"/>
<path d="M662.42 192.67A369.5 369.5 0 0 1 681.51 199.85" stroke="#4a4a4a" stroke-width="6.5" fill="none"/>
<path d="M691.23 203.97A369.5 369.5 0 0 1 709.65 212.72" stroke="#4a4a4a" stroke-width="6.5" fill="none"/>
<path d="M718.99 217.65A369.5 369.5 0 0 1 736.62 227.91" stroke="#4a4a4a" stroke-width="6.5" fill="none"/>
<path d="M745.51 233.59A369.5 369.5 0 0 1 762.22 245.29" stroke="#4a4a4a" stroke-width="6.5" fill="none"/>
<path d="M770.60 251.71A369.5 369.5 0 0 1 786.27 264.76" stroke="#4a4a4a" stroke-width="6.5" fill="none"/>
<path d="M794.09 271.85A369.5 369.5 0 0 1 808.62 286.18" stroke="#4a4a4a" stroke-width="6.5" fill="none"/>
<path d="M815.81 293.89A369.5 369.5 0 0 1 829.09 309.38" stroke="#4a4a4a" stroke-width="6.5" fill="none"/>
<path d="M835.61 317.68A369.5 369.5 0 0 1 847.55 334.22" stroke="#4a4a4a" stroke-width="6.5" fill="none"/>
<path d="M853.36 343.03A369.5 369.5 0 0 1 863.86 360.52" stroke="#4a4a4a" stroke-width="6.5" fill="none"/>
<path d="M868.91 369.78A369.5 369.5 0 0 1 877.92 388.09" stroke="#4a4a4a" stroke-width="6.5" fill="none"/>
<path d="M882.18 397.74A369.5 369.5 0 0 1 889.62 416.73" stroke="#4a4a4a" stroke-width="6.5" fill="none"/>
<path d="M893.05 426.71A369.5 369.5 0 0 1 898.88 446.26" stroke="#4a4a4a" stroke-width="6.5" fill="none"/>
<path d="M901.47 456.49A369.5 369.5 0 0 1 905.64 476.46" stroke="#4a4a4a" stroke-width="6.5" fill="none"/>
<path d="M907.36 486.87A369.5 369.5 0 0 1 909.85 507.12" stroke="#4a4a4a" stroke-width="6.5" fill="none"/>
<path d="M910.70 517.64A369.5 369.5 0 0 1 911.48 538.02" stroke="#4a4a4a" stroke-width="6.5" fill="none"/>
<path d="M911.44 548.58A369.5 369.5 0 0 1 910.52 568.95" stroke="#4a4a4a" stroke-width="6.5" fill="none"/>
<path d="M909.60 579.47A369.5 369.5 0 0 1 906.97 599.70" stroke="#4a4a4a" stroke-width="6.5" fill="none"/>
<path d="M905.17 610.10A369.5 369.5 0 0 1 900.86 630.03" stroke="#4a4a4a" stroke-width="6.5" fill="none"/>
<path d="M898.20 640.25A369.5 369.5 0 0 1 892.23 659.75" stroke="#4a4a4a" stroke-width="6.5" fill="none"/>
<path d="M888.73 669.71A369.5 369.5 0 0 1 881.15 688.65" stroke="#4a4a4a" stroke-width="6.5" fill="none"/>
<path d="M876.83 698.27A369.5 369.5 0 0 1 867.69 716.51" stroke="#4a4a4a" stroke-width="6.5" fill="none"/>
<path d="M862.58 725.74A369.5 369.5 0 0 1 851.95 743.15" stroke="#4a4a4a" stroke-width="6.5" fill="none"/>
<path d="M846.08 751.92A369.5 369.5 0 0 1 834.03 768.38" stroke="#4a4a4a" stroke-width="6.5" fill="none"/>
<path d="M827.44 776.63A369.5 369.5 0 0 1 814.06 792.03" stroke="#4a4a4a" stroke-width="6.5" fill="none"/>
<path d="M806.81 799.69A369.5 369.5 0 0 1 792.19 813.91" stroke="#4a4a4a" stroke-width="6.5" fill="none"/>
<path d="M784.32 820.95A369.5 369.5 0 0 1 768.55 833.90" stroke="#4a4a4a" stroke-width="6.5" fill="none"/>
<path d="M760.12 840.25A369.5 369.5 0 0 1 743.33 851.83" stroke="#4a4a4a" stroke-width="6.5" fill="none"/>
<path d="M734.40 857.45A369.5 369.5 0 0 1 716.70 867.59" stroke="#4a4a4a" stroke-width="6.5" fill="none"/>
<path d="M707.33 872.45A369.5 369.5 0 0 1 688.85 881.07" stroke="#4a4a4a" stroke-width="6.5" fill="none"/>
<path d="M679.10 885.12A369.5 369.5 0 0 1 659.96 892.17" stroke="#4a4a4a" stroke-width="6.5" fill="none"/>
<path d="M649.91 895.39A369.5 369.5 0 0 1 630.24 900.81" stroke="#4a4a4a" stroke-width="6.5" fill="none"/>
<path d="M619.96 903.18A369.5 369.5 0 0 1 599.91 906.93" stroke="#4a4a4a" stroke-width="6.5" fill="none"/>
<path d="M589.46 908.44A369.5 369.5 0 0 1 569.17 910.50" stroke="#4a4a4a" stroke-width="6.5" fill="none"/>
<path d="M558.63 911.13A369.5 369.5 0 0 1 538.24 911.48" stroke="#4a4a4a" stroke-width="6.5" fill="none"/>
<path d="M527.69 911.22A369.5 369.5 0 0 1 507.33 909.87" stroke="#4a4a4a" stroke-width="6.5" fill="none"/>
<path d="M496.84 908.73A369.5 369.5 0 0 1 476.67 905.68" stroke="#4a4a4a" stroke-width="6.5" fill="none"/>
<path d="M466.31 903.67A369.5 369.5 0 0 1 446.47 898.94" stroke="#4a4a4a" stroke-width="6.5" fill="none"/>
<path d="M436.31 896.06A369.5 369.5 0 0 1 416.94 889.69" stroke="#4a4a4a" stroke-width="6.5" fill="none"/>
<path d="M407.06 885.98A369.5 369.5 0 0 1 388.28 878.01" stroke="#4a4a4a" stroke-width="6.5" fill="none"/>
<path d="M378.75 873.48A369.5 369.5 0 0 1 360.70 863.97" stroke="#4a4a4a" stroke-width="6.5" fill="none"/>
<path d="M351.58 858.66A369.5 369.5 0 0 1 334.40 847.67" stroke="#4a4a4a" stroke-width="6.5" fill="none"/>
<path d="M325.75 841.61A369.5 369.5 0 0 1 309.55 829.22" stroke="#4a4a4a" stroke-width="6.5" fill="none"/>
<path d="M301.44 822.47A369.5 369.5 0 0 1 286.33 808.77" stroke="#4a4a4a" stroke-width="6.5" fill="none"/>
<path d="M278.82 801.35A369.5 369.5 0 0 1 264.91 786.44" stroke="#4a4a4a" stroke-width="6.5" fill="none"/>
<path d="M258.04 778.42A369.5 369.5 0 0 1 245.42 762.39" stroke="#4a4a4a" stroke-width="6.5" fill="none"/>
<path d="M239.25 753.83A369.5 369.5 0 0 1 228.02 736.80" stroke="#4a4a4a" stroke-width="6.5" fill="none"/>
<path d="M222.59 727.75A369.5 369.5 0 0 1 212.82 709.85" stroke="#4a4a4a" stroke-width="6.5" fill="none"/>
<path d="M208.16 700.38A369.5 369.5 0 0 1 199.93 681.71" stroke="#4a4a4a" stroke-width="6.5" fill="none"/>
<path d="M196.08 671.88A369.5 369.5 0 0 1 189.44 652.60" stroke="#4a4a4a" stroke-width="6.5" fill="none"/>
<path d="M186.43 642.48A369.5 369.5 0 0 1 181.42 622.71" stroke="#4a4a4a" stroke-width="6.5" fill="none"/>
<path d="M179.26 612.38A369.5 369.5 0 0 1 175.93 592.25" stroke="#4a4a4a" stroke-width="6.5" fill="none"/>
<path d="M174.65 581.78A369.5 369.5 0 0 1 173.01 561.45" stroke="#4a4a4a" stroke-width="6.5" fill="none"/>
<path d="M172.61 550.90A369.5 369.5 0 0 1 172.68 530.50" stroke="#4a4a4a" stroke-width="6.5" fill="none"/>
<path d="M173.16 519.96A369.5 369.5 0 0 1 174.94 499.64" stroke="#4a4a4a" stroke-width="6.5" fill="none"/>
<path d="M176.30 489.17A369.5 369.5 0 0 1 179.77 469.07" stroke="#4a4a4a" stroke-width="6.5" fill="none"/>
<path d="M182.00 458.75A369.5 369.5 0 0 1 187.14 439.02" stroke="#4a4a4a" stroke-width="6.5" fill="none"/>
<path d="M190.23 428.92A369.5 369.5 0 0 1 197.00 409.68" stroke="#4a4a4a" stroke-width="6.5" fill="none"/>
<path d="M200.92 399.88A369.5 369.5 0 0 1 209.29 381.28" stroke="#4a4a4a" stroke-width="6.5" fill="none"/>
<path d="M214.01 371.84A369.5 369.5 0 0 1 223.90 354.00" stroke="#4a4a4a" stroke-width="6.5" fill="none"/>
<path d="M229.40 344.99A369.5 369.5 0 0 1 240.75 328.04" stroke="#4a4a4a" stroke-width="6.5" fill="none"/>
<path d="M246.98 319.53A369.5 369.5 0 0 1 259.71 303.59" stroke="#4a4a4a" stroke-width="6.5" fill="none"/>
<path d="M266.63 295.62A369.5 369.5 0 0 1 280.65 280.80" stroke="#3cb55a" stroke-width="6.5" fill="none"/>
<path d="M288.21 273.44A369.5 369.5 0 0 1 303.42 259.85" stroke="#4a4a4a" stroke-width="6.5" fill="none"/>
<path d="M311.58 253.15A369.5 369.5 0 0 1 327.87 240.87" stroke="#3cb55a" stroke-width="6.5" fill="none"/>
<path d="M336.56 234.88A369.5 369.5 0 0 1 353.82 224.01" stroke="#4a4a4a" stroke-width="6.5" fill="none"/>
<path d="M362.98 218.77A369.5 369.5 0 0 1 381.09 209.38" stroke="#4a4a4a" stroke-width="6.5" fill="none"/>
<path d="M390.65 204.92A369.5 369.5 0 0 1 409.48 197.08" stroke="#4a4a4a" stroke-width="6.5" fill="none"/>
<path d="M419.39 193.44A369.5 369.5 0 0 1 438.81 187.20" stroke="#4a4a4a" stroke-width="6.5" fill="none"/>
<path d="M448.99 184.40A369.5 369.5 0 0 1 468.86 179.81" stroke="#4a4a4a" stroke-width="6.5" fill="none"/>
<path d="M479.23 177.87A369.5 369.5 0 0 1 499.42 174.96" stroke="#4a4a4a" stroke-width="6.5" fill="none"/>
<path d="M509.92 173.89A369.5 369.5 0 0 1 530.29 172.69" stroke="#4a4a4a" stroke-width="6.5" fill="none"/>

<!-- centre -->
<circle cx="542" cy="542" r="68" fill="url(#cg)"/>
<circle cx="542" cy="542" r="49" fill="#000" stroke="#2fa82f" stroke-width="0.9"/>
<circle cx="542" cy="542" r="39.3" fill="none" stroke="#2fb02f" stroke-width="1.3" stroke-dasharray="10 4 2 4"/>
<g fill="none" stroke="#43d236" stroke-linecap="round">
<path d="M522.4 525.2C530 535 541 541.5 551 543.8" stroke-width="2.6"/>
<path d="M542.7 527.6C544 535 548 541 551.5 543.5" stroke-width="2.0"/>
<path d="M525.7 537.4C533 543 543 545.5 551.5 545" stroke-width="2.5"/>
<path d="M541.2 535.1C543.5 539 547 542.5 550 544" stroke-width="1.8"/>
<path d="M533.1 546.4C540 548 547 547.5 553 545.5" stroke-width="2.0"/>
<path d="M533.5 555.1C540 552 547 549 554 546.3" stroke-width="1.8"/>
<path d="M534.9 560.8C541 555 550 549 559 545" stroke-width="1.8"/>
<path d="M544.5 558.2C549 552.5 556 547.5 562.5 544" stroke-width="1.8"/>
<path d="M551 544.2C555 543.5 559 543.6 562.8 544" stroke-width="2.4"/>
</g>
<g fill="#43d236">
<circle cx="522.4" cy="525.2" r="2.7"/><circle cx="542.7" cy="527.6" r="2"/><circle cx="525.7" cy="537.4" r="2.3"/><circle cx="541.2" cy="535.1" r="1.5"/><circle cx="533.1" cy="546.4" r="1.8"/><circle cx="533.5" cy="555.1" r="1.6"/><circle cx="534.9" cy="560.8" r="1.6"/><circle cx="544.5" cy="558.2" r="1.5"/><circle cx="562.8" cy="544" r="1.6"/>
</g>
<!-- markers -->
<circle cx="616.5" cy="316.1" r="18" fill="#f0c800" fill-opacity="0.5"/><circle cx="616.5" cy="316.1" r="10.3" fill="#ecc400"/>
<circle cx="471.9" cy="601.5" r="18" fill="#d9484a" fill-opacity="0.5"/><circle cx="471.9" cy="601.5" r="10.4" fill="#d03d3f"/>
<circle cx="637.3" cy="714" r="18.3" fill="#3cb55a" fill-opacity="0.5"/><circle cx="637.3" cy="714" r="10.5" fill="#3cb55a"/>
</svg>

<div class="card" style="left:638px;top:248.2px;width:445px;height:91.5px;background:linear-gradient(#0d0d0d,#0d0d0d) padding-box,linear-gradient(100deg,#c9a800 0%,#c9a800 25%,rgba(70,70,70,0.2) 75%) border-box;border:1px solid transparent;"><div style="position:absolute;left:-12px;top:50px;width:60px;height:60px;border-radius:50%;background:radial-gradient(closest-side,rgba(200,160,0,0.2) 0%,rgba(200,160,0,0) 70%)"></div><div style="position:absolute;left:120px;top:-30px;width:100px;height:100px;border-radius:50%;background:radial-gradient(closest-side,rgba(120,120,120,0.06) 0%,rgba(120,120,120,0) 70%)"></div><div class="av"><i style="background:#dd88cc"></i><b>N</b></div><svg class="flag" viewBox="0 0 9 6" width="8.4" height="5.6"><rect width="9" height="6" fill="#f0dfe4"/><rect y="0" width="9" height="0.9" fill="#dc7484"/><rect y="1.7" width="9" height="0.9" fill="#dc7484"/><rect y="3.4" width="9" height="0.9" fill="#dc7484"/><rect y="5.1" width="9" height="0.9" fill="#dc7484"/><rect width="4" height="3.2" fill="#5a6cb4"/></svg><div class="t">Nimbus Dynamics</div><div class="u" style="margin-left:0px">www.nimbusdynamics.com</div><div class="d">Administrative and Support...</div><svg width="445" height="91.5" viewBox="0 0 445 91.5"><circle cx="241.4" cy="45.900000000000006" r="18.3" fill="none" stroke="#525a64" stroke-width="4.6"/><path d="M243.95 27.78A18.3 18.3 0 0 1 247.98 28.83" stroke="#e8c400" stroke-opacity="0.31" stroke-width="4.6" fill="none"/><path d="M247.74 28.74A18.3 18.3 0 0 1 251.47 30.62" stroke="#e8c400" stroke-opacity="0.36" stroke-width="4.6" fill="none"/><path d="M251.25 30.48A18.3 18.3 0 0 1 254.49 33.11" stroke="#e8c400" stroke-opacity="0.41" stroke-width="4.6" fill="none"/><path d="M254.31 32.93A18.3 18.3 0 0 1 256.91 36.19" stroke="#e8c400" stroke-opacity="0.46" stroke-width="4.6" fill="none"/><path d="M256.77 35.97A18.3 18.3 0 0 1 258.62 39.71" stroke="#e8c400" stroke-opacity="0.51" stroke-width="4.6" fill="none"/><path d="M258.53 39.47A18.3 18.3 0 0 1 259.54 43.52" stroke="#e8c400" stroke-opacity="0.56" stroke-width="4.6" fill="none"/><path d="M259.51 43.26A18.3 18.3 0 0 1 259.64 47.43" stroke="#e8c400" stroke-opacity="0.61" stroke-width="4.6" fill="none"/><path d="M259.66 47.18A18.3 18.3 0 0 1 258.89 51.28" stroke="#e8c400" stroke-opacity="0.67" stroke-width="4.6" fill="none"/><path d="M258.97 51.03A18.3 18.3 0 0 1 257.35 54.88" stroke="#e8c400" stroke-opacity="0.72" stroke-width="4.6" fill="none"/><path d="M257.47 54.65A18.3 18.3 0 0 1 255.07 58.06" stroke="#e8c400" stroke-opacity="0.77" stroke-width="4.6" fill="none"/><path d="M255.24 57.87A18.3 18.3 0 0 1 252.17 60.69" stroke="#e8c400" stroke-opacity="0.82" stroke-width="4.6" fill="none"/><path d="M252.38 60.54A18.3 18.3 0 0 1 248.78 62.65" stroke="#e8c400" stroke-opacity="0.87" stroke-width="4.6" fill="none"/><path d="M249.01 62.54A18.3 18.3 0 0 1 245.04 63.83" stroke="#e8c400" stroke-opacity="0.92" stroke-width="4.6" fill="none"/><path d="M245.29 63.78A18.3 18.3 0 0 1 241.40 64.20" stroke="#e8c400" stroke-opacity="0.97" stroke-width="4.6" fill="none" stroke-linecap="round"/><circle cx="397.2" cy="45.900000000000006" r="18.3" fill="none" stroke="#525a64" stroke-width="4.6"/><path d="M397.20 27.60A18.3 18.3 0 0 1 402.62 28.42" stroke="#e8c400" stroke-opacity="0.31" stroke-width="4.6" fill="none"/><path d="M402.38 28.35A18.3 18.3 0 0 1 407.34 30.67" stroke="#e8c400" stroke-opacity="0.36" stroke-width="4.6" fill="none"/><path d="M407.13 30.53A18.3 18.3 0 0 1 411.24 34.16" stroke="#e8c400" stroke-opacity="0.41" stroke-width="4.6" fill="none"/><path d="M411.07 33.96A18.3 18.3 0 0 1 413.98 38.61" stroke="#e8c400" stroke-opacity="0.46" stroke-width="4.6" fill="none"/><path d="M413.88 38.37A18.3 18.3 0 0 1 415.36 43.65" stroke="#e8c400" stroke-opacity="0.51" stroke-width="4.6" fill="none"/><path d="M415.33 43.40A18.3 18.3 0 0 1 415.26 48.88" stroke="#e8c400" stroke-opacity="0.56" stroke-width="4.6" fill="none"/><path d="M415.30 48.63A18.3 18.3 0 0 1 413.68 53.86" stroke="#e8c400" stroke-opacity="0.61" stroke-width="4.6" fill="none"/><path d="M413.79 53.63A18.3 18.3 0 0 1 410.75 58.20" stroke="#e8c400" stroke-opacity="0.67" stroke-width="4.6" fill="none"/><path d="M410.92 58.01A18.3 18.3 0 0 1 406.72 61.53" stroke="#e8c400" stroke-opacity="0.72" stroke-width="4.6" fill="none"/><path d="M406.94 61.40A18.3 18.3 0 0 1 401.91 63.58" stroke="#e8c400" stroke-opacity="0.77" stroke-width="4.6" fill="none"/><path d="M402.16 63.52A18.3 18.3 0 0 1 396.72 64.19" stroke="#e8c400" stroke-opacity="0.82" stroke-width="4.6" fill="none"/><path d="M396.97 64.20A18.3 18.3 0 0 1 391.56 63.31" stroke="#e8c400" stroke-opacity="0.87" stroke-width="4.6" fill="none"/><path d="M391.81 63.39A18.3 18.3 0 0 1 386.87 61.00" stroke="#e8c400" stroke-opacity="0.92" stroke-width="4.6" fill="none"/><path d="M387.08 61.15A18.3 18.3 0 0 1 383.18 57.66" stroke="#e8c400" stroke-opacity="0.97" stroke-width="4.6" fill="none" stroke-linecap="round"/><rect x="284.0" y="41.2" width="7.2" height="17.799999999999997" rx="3.6" fill="#3fb55c"/><rect x="295.2" y="35.8" width="7.2" height="23.200000000000003" rx="3.6" fill="#525a64"/><rect x="305.9" y="31.6" width="7.2" height="27.4" rx="3.6" fill="#525a64"/></svg><div class="gl" style="left:221.4px;top:39.900000000000006px;font-size:10.5px">C</div><div class="gl" style="left:377.2px;top:39.900000000000006px">64%</div><div class="amt" style="left:317.5px">$83.7K</div></div>
<div class="card" style="left:0.5px;top:495.8px;width:446px;height:92.5px;background:linear-gradient(#0d0d0d,#0d0d0d) padding-box,linear-gradient(100deg,#b03a3e 0%,#b03a3e 25%,rgba(70,70,70,0.2) 75%) border-box;border:1px solid transparent;"><div style="position:absolute;left:394px;top:-16px;width:68px;height:124px;border-radius:50%;background:radial-gradient(closest-side,rgba(150,120,0,0.24) 0%,rgba(150,120,0,0) 70%)"></div><div style="position:absolute;left:270px;top:0px;width:60px;height:60px;border-radius:50%;background:radial-gradient(closest-side,rgba(150,130,0,0.09) 0%,rgba(150,130,0,0) 70%)"></div><div style="position:absolute;left:322px;top:32px;width:56px;height:56px;border-radius:50%;background:radial-gradient(closest-side,rgba(40,120,50,0.08) 0%,rgba(40,120,50,0) 70%)"></div><div class="av"><i style="background:#3fcc2a"></i><b>B</b></div><svg class="flag" viewBox="0 0 9 6" width="8.4" height="5.6"><rect width="9" height="6" fill="#f0dfe4"/><rect y="0" width="9" height="0.9" fill="#dc7484"/><rect y="1.7" width="9" height="0.9" fill="#dc7484"/><rect y="3.4" width="9" height="0.9" fill="#dc7484"/><rect y="5.1" width="9" height="0.9" fill="#dc7484"/><rect width="4" height="3.2" fill="#5a6cb4"/></svg><div class="t">Bluefern Solutions</div><div class="u" style="margin-left:1.7px">www.bluefernsolutions.com</div><div class="d">Administrative Management...</div><svg width="446" height="92.5" viewBox="0 0 446 92.5"><circle cx="241.4" cy="45.900000000000006" r="18.3" fill="none" stroke="#525a64" stroke-width="4.6"/><path d="M243.95 27.78A18.3 18.3 0 0 1 246.25 28.25" stroke="#d04448" stroke-opacity="0.31" stroke-width="4.6" fill="none"/><path d="M246.00 28.19A18.3 18.3 0 0 1 248.24 28.93" stroke="#d04448" stroke-opacity="0.36" stroke-width="4.6" fill="none"/><path d="M248.00 28.83A18.3 18.3 0 0 1 250.14 29.82" stroke="#d04448" stroke-opacity="0.41" stroke-width="4.6" fill="none"/><path d="M249.91 29.70A18.3 18.3 0 0 1 251.92 30.93" stroke="#d04448" stroke-opacity="0.46" stroke-width="4.6" fill="none"/><path d="M251.71 30.78A18.3 18.3 0 0 1 253.56 32.23" stroke="#d04448" stroke-opacity="0.51" stroke-width="4.6" fill="none"/><path d="M253.37 32.06A18.3 18.3 0 0 1 255.05 33.71" stroke="#d04448" stroke-opacity="0.56" stroke-width="4.6" fill="none"/><path d="M254.88 33.52A18.3 18.3 0 0 1 256.35 35.35" stroke="#d04448" stroke-opacity="0.61" stroke-width="4.6" fill="none"/><path d="M256.21 35.14A18.3 18.3 0 0 1 257.46 37.13" stroke="#d04448" stroke-opacity="0.67" stroke-width="4.6" fill="none"/><path d="M257.34 36.91A18.3 18.3 0 0 1 258.36 39.03" stroke="#d04448" stroke-opacity="0.72" stroke-width="4.6" fill="none"/><path d="M258.26 38.79A18.3 18.3 0 0 1 259.04 41.01" stroke="#d04448" stroke-opacity="0.77" stroke-width="4.6" fill="none"/><path d="M258.97 40.77A18.3 18.3 0 0 1 259.48 43.06" stroke="#d04448" stroke-opacity="0.82" stroke-width="4.6" fill="none"/><path d="M259.44 42.81A18.3 18.3 0 0 1 259.68 45.15" stroke="#d04448" stroke-opacity="0.87" stroke-width="4.6" fill="none"/><path d="M259.67 44.90A18.3 18.3 0 0 1 259.65 47.25" stroke="#d04448" stroke-opacity="0.92" stroke-width="4.6" fill="none"/><path d="M259.67 46.99A18.3 18.3 0 0 1 259.42 49.08" stroke="#d04448" stroke-opacity="0.97" stroke-width="4.6" fill="none" stroke-linecap="round"/><circle cx="397.2" cy="45.900000000000006" r="18.3" fill="none" stroke="#525a64" stroke-width="4.6"/><path d="M397.20 27.60A18.3 18.3 0 0 1 399.68 27.77" stroke="#d04448" stroke-opacity="0.31" stroke-width="4.6" fill="none"/><path d="M399.43 27.74A18.3 18.3 0 0 1 401.87 28.21" stroke="#d04448" stroke-opacity="0.36" stroke-width="4.6" fill="none"/><path d="M401.63 28.14A18.3 18.3 0 0 1 404.00 28.91" stroke="#d04448" stroke-opacity="0.41" stroke-width="4.6" fill="none"/><path d="M403.76 28.82A18.3 18.3 0 0 1 406.02 29.86" stroke="#d04448" stroke-opacity="0.46" stroke-width="4.6" fill="none"/><path d="M405.79 29.74A18.3 18.3 0 0 1 407.90 31.06" stroke="#d04448" stroke-opacity="0.51" stroke-width="4.6" fill="none"/><path d="M407.70 30.91A18.3 18.3 0 0 1 409.63 32.47" stroke="#d04448" stroke-opacity="0.56" stroke-width="4.6" fill="none"/><path d="M409.45 32.30A18.3 18.3 0 0 1 411.18 34.09" stroke="#d04448" stroke-opacity="0.61" stroke-width="4.6" fill="none"/><path d="M411.01 33.89A18.3 18.3 0 0 1 412.51 35.88" stroke="#d04448" stroke-opacity="0.67" stroke-width="4.6" fill="none"/><path d="M412.37 35.67A18.3 18.3 0 0 1 413.62 37.82" stroke="#d04448" stroke-opacity="0.72" stroke-width="4.6" fill="none"/><path d="M413.51 37.59A18.3 18.3 0 0 1 414.48 39.88" stroke="#d04448" stroke-opacity="0.77" stroke-width="4.6" fill="none"/><path d="M414.40 39.64A18.3 18.3 0 0 1 415.09 42.03" stroke="#d04448" stroke-opacity="0.82" stroke-width="4.6" fill="none"/><path d="M415.03 41.78A18.3 18.3 0 0 1 415.42 44.24" stroke="#d04448" stroke-opacity="0.87" stroke-width="4.6" fill="none"/><path d="M415.40 43.99A18.3 18.3 0 0 1 415.49 46.47" stroke="#d04448" stroke-opacity="0.92" stroke-width="4.6" fill="none"/><path d="M415.50 46.22A18.3 18.3 0 0 1 415.32 48.45" stroke="#d04448" stroke-opacity="0.97" stroke-width="4.6" fill="none" stroke-linecap="round"/><rect x="284.0" y="41.2" width="7.2" height="17.799999999999997" rx="3.6" fill="#e8c400"/><rect x="295.2" y="35.8" width="7.2" height="23.200000000000003" rx="3.6" fill="#e8c400"/><rect x="305.9" y="31.6" width="7.2" height="27.4" rx="3.6" fill="#525a64"/></svg><div class="gl" style="left:221.4px;top:39.900000000000006px;font-size:10.5px">D</div><div class="gl" style="left:377.2px;top:39.900000000000006px">25%</div><div class="amt" style="left:317.5px">$12.7K</div></div>
<div class="card" style="left:527.2px;top:744.3px;width:446px;height:92px;background:linear-gradient(#0d0d0d,#0d0d0d) padding-box,linear-gradient(100deg,#2f9a48 0%,#2f9a48 25%,rgba(70,70,70,0.2) 75%) border-box;border:1px solid transparent;"><div style="position:absolute;left:80px;top:-22px;width:60px;height:60px;border-radius:50%;background:radial-gradient(closest-side,rgba(40,140,60,0.1) 0%,rgba(40,140,60,0) 70%)"></div><div style="position:absolute;left:112px;top:-18px;width:56px;height:56px;border-radius:50%;background:radial-gradient(closest-side,rgba(180,150,0,0.08) 0%,rgba(180,150,0,0) 70%)"></div><div class="av"><i style="background:#5a9cf0"></i><b>A</b></div><svg class="flag" viewBox="0 0 9 6" width="8.4" height="5.6"><rect width="9" height="6" fill="#f0dfe4"/><rect y="0" width="9" height="0.9" fill="#dc7484"/><rect y="1.7" width="9" height="0.9" fill="#dc7484"/><rect y="3.4" width="9" height="0.9" fill="#dc7484"/><rect y="5.1" width="9" height="0.9" fill="#dc7484"/><rect width="4" height="3.2" fill="#5a6cb4"/></svg><div class="t">Axionix Global</div><div class="u" style="margin-left:2px">www.axionixglobal.com</div><div class="d">Furniture and Related Produ...</div><svg width="446" height="92" viewBox="0 0 446 92"><circle cx="241.4" cy="45.900000000000006" r="18.3" fill="none" stroke="#525a64" stroke-width="4.6"/><path d="M247.66 28.70A18.3 18.3 0 0 1 253.10 31.83" stroke="#3fb55c" stroke-opacity="0.31" stroke-width="4.6" fill="none"/><path d="M252.90 31.66A18.3 18.3 0 0 1 257.03 36.38" stroke="#3fb55c" stroke-opacity="0.36" stroke-width="4.6" fill="none"/><path d="M256.90 36.16A18.3 18.3 0 0 1 259.27 41.97" stroke="#3fb55c" stroke-opacity="0.41" stroke-width="4.6" fill="none"/><path d="M259.22 41.72A18.3 18.3 0 0 1 259.58 47.98" stroke="#3fb55c" stroke-opacity="0.46" stroke-width="4.6" fill="none"/><path d="M259.61 47.72A18.3 18.3 0 0 1 257.93 53.76" stroke="#3fb55c" stroke-opacity="0.51" stroke-width="4.6" fill="none"/><path d="M258.03 53.53A18.3 18.3 0 0 1 254.48 58.70" stroke="#3fb55c" stroke-opacity="0.56" stroke-width="4.6" fill="none"/><path d="M254.66 58.51A18.3 18.3 0 0 1 249.62 62.25" stroke="#3fb55c" stroke-opacity="0.61" stroke-width="4.6" fill="none"/><path d="M249.85 62.13A18.3 18.3 0 0 1 243.87 64.03" stroke="#3fb55c" stroke-opacity="0.67" stroke-width="4.6" fill="none"/><path d="M244.13 64.00A18.3 18.3 0 0 1 237.86 63.85" stroke="#3fb55c" stroke-opacity="0.72" stroke-width="4.6" fill="none"/><path d="M238.11 63.90A18.3 18.3 0 0 1 232.23 61.73" stroke="#3fb55c" stroke-opacity="0.77" stroke-width="4.6" fill="none"/><path d="M232.45 61.86A18.3 18.3 0 0 1 227.59 57.90" stroke="#3fb55c" stroke-opacity="0.82" stroke-width="4.6" fill="none"/><path d="M227.75 58.09A18.3 18.3 0 0 1 224.44 52.77" stroke="#3fb55c" stroke-opacity="0.87" stroke-width="4.6" fill="none"/><path d="M224.54 53.01A18.3 18.3 0 0 1 223.13 46.90" stroke="#3fb55c" stroke-opacity="0.92" stroke-width="4.6" fill="none"/><path d="M223.14 47.15A18.3 18.3 0 0 1 223.72 41.16" stroke="#3fb55c" stroke-opacity="0.97" stroke-width="4.6" fill="none" stroke-linecap="round"/><circle cx="397.2" cy="45.900000000000006" r="18.3" fill="none" stroke="#525a64" stroke-width="4.6"/><path d="M397.20 27.60A18.3 18.3 0 0 1 403.27 28.64" stroke="#3fb55c" stroke-opacity="0.31" stroke-width="4.6" fill="none"/><path d="M403.03 28.55A18.3 18.3 0 0 1 408.45 31.47" stroke="#3fb55c" stroke-opacity="0.36" stroke-width="4.6" fill="none"/><path d="M408.25 31.31A18.3 18.3 0 0 1 412.46 35.80" stroke="#3fb55c" stroke-opacity="0.41" stroke-width="4.6" fill="none"/><path d="M412.32 35.59A18.3 18.3 0 0 1 414.88 41.19" stroke="#3fb55c" stroke-opacity="0.46" stroke-width="4.6" fill="none"/><path d="M414.82 40.94A18.3 18.3 0 0 1 415.46 47.07" stroke="#3fb55c" stroke-opacity="0.51" stroke-width="4.6" fill="none"/><path d="M415.48 46.81A18.3 18.3 0 0 1 414.14 52.82" stroke="#3fb55c" stroke-opacity="0.56" stroke-width="4.6" fill="none"/><path d="M414.23 52.59A18.3 18.3 0 0 1 411.05 57.86" stroke="#3fb55c" stroke-opacity="0.61" stroke-width="4.6" fill="none"/><path d="M411.22 57.66A18.3 18.3 0 0 1 406.52 61.65" stroke="#3fb55c" stroke-opacity="0.67" stroke-width="4.6" fill="none"/><path d="M406.74 61.52A18.3 18.3 0 0 1 401.02 63.80" stroke="#3fb55c" stroke-opacity="0.72" stroke-width="4.6" fill="none"/><path d="M401.27 63.74A18.3 18.3 0 0 1 395.12 64.08" stroke="#3fb55c" stroke-opacity="0.77" stroke-width="4.6" fill="none"/><path d="M395.38 64.11A18.3 18.3 0 0 1 389.44 62.47" stroke="#3fb55c" stroke-opacity="0.82" stroke-width="4.6" fill="none"/><path d="M389.67 62.58A18.3 18.3 0 0 1 384.57 59.14" stroke="#3fb55c" stroke-opacity="0.87" stroke-width="4.6" fill="none"/><path d="M384.75 59.31A18.3 18.3 0 0 1 381.01 54.43" stroke="#3fb55c" stroke-opacity="0.92" stroke-width="4.6" fill="none"/><path d="M381.13 54.65A18.3 18.3 0 0 1 379.18 49.08" stroke="#3fb55c" stroke-opacity="0.97" stroke-width="4.6" fill="none" stroke-linecap="round"/><rect x="284.0" y="41.2" width="7.2" height="17.799999999999997" rx="3.6" fill="#e8c400"/><rect x="295.2" y="35.8" width="7.2" height="23.200000000000003" rx="3.6" fill="#e8c400"/><rect x="305.9" y="31.6" width="7.2" height="27.4" rx="3.6" fill="#525a64"/></svg><div class="gl" style="left:221.4px;top:39.900000000000006px;font-size:10.5px">B</div><div class="gl" style="left:377.2px;top:39.900000000000006px">72%</div><div class="amt" style="left:317.5px">$12.7K</div></div>
</body></html>
